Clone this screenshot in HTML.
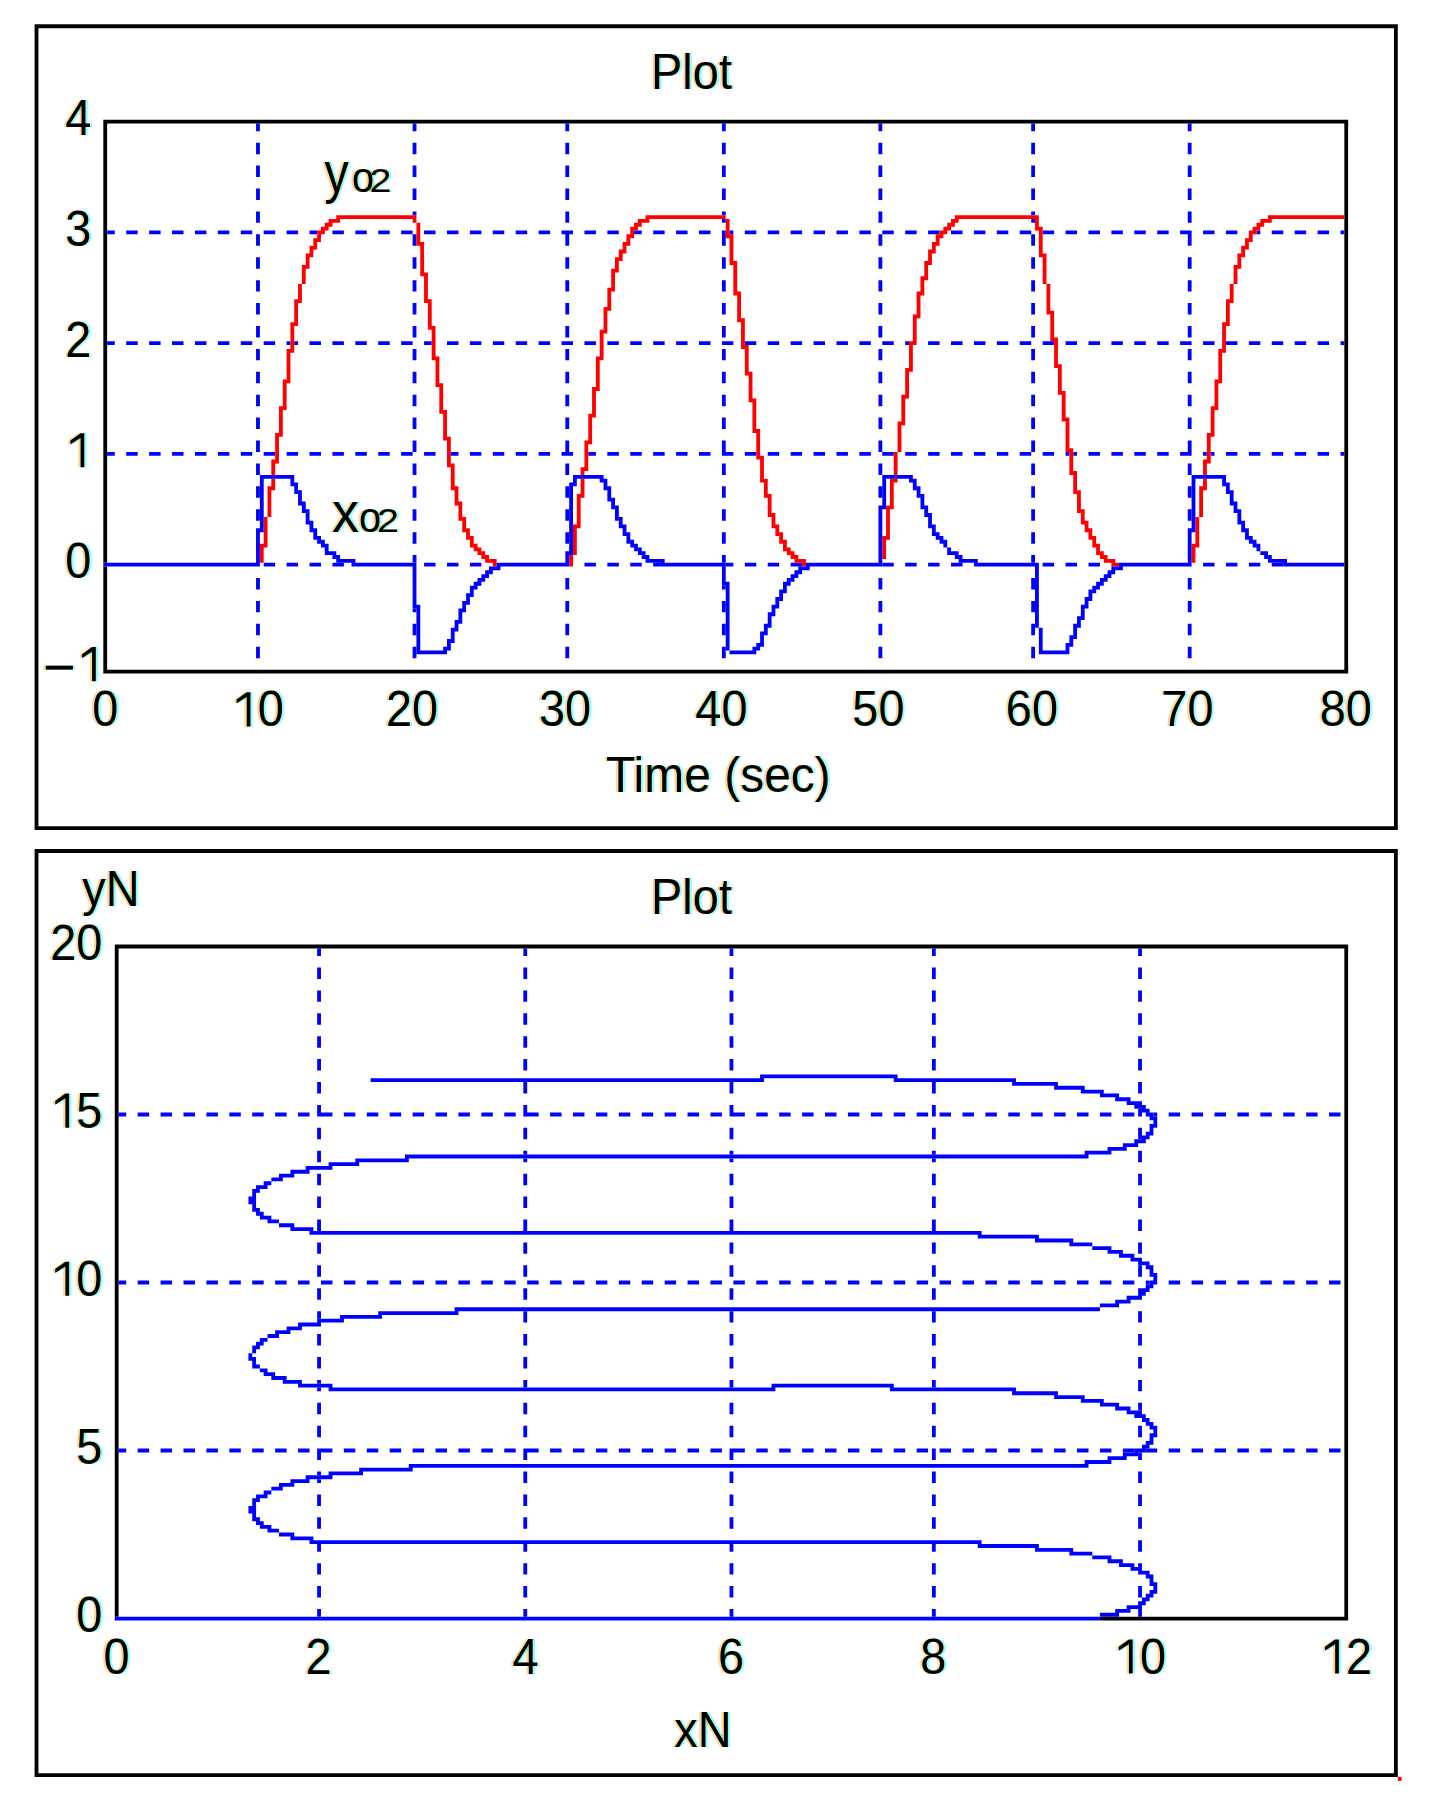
<!DOCTYPE html>
<html><head><meta charset="utf-8"><style>html,body{margin:0;padding:0;background:#fff;}svg{display:block;}</style></head>
<body><svg width="1433" height="1813" viewBox="0 0 1433 1813"><rect width="1433" height="1813" fill="#fff"/><g transform="translate(0.22 1.4) scale(3.8185)"><path fill="#0000ff" d="M67 32h1v1h-1zM108 32h1v1h-1zM148 32h1v1h-1zM189 32h1v1h-1zM230 32h1v1h-1zM270 32h1v1h-1zM311 32h1v1h-1zM67 33h1v1h-1zM108 33h1v1h-1zM148 33h1v1h-1zM189 33h1v1h-1zM230 33h1v1h-1zM270 33h1v1h-1zM311 33h1v1h-1zM67 37h1v1h-1zM108 37h1v1h-1zM148 37h1v1h-1zM189 37h1v1h-1zM230 37h1v1h-1zM270 37h1v1h-1zM311 37h1v1h-1zM67 38h1v1h-1zM108 38h1v1h-1zM148 38h1v1h-1zM189 38h1v1h-1zM230 38h1v1h-1zM270 38h1v1h-1zM311 38h1v1h-1zM67 39h1v1h-1zM108 39h1v1h-1zM148 39h1v1h-1zM189 39h1v1h-1zM230 39h1v1h-1zM270 39h1v1h-1zM311 39h1v1h-1zM67 43h1v1h-1zM108 43h1v1h-1zM148 43h1v1h-1zM189 43h1v1h-1zM230 43h1v1h-1zM270 43h1v1h-1zM311 43h1v1h-1zM67 44h1v1h-1zM108 44h1v1h-1zM148 44h1v1h-1zM189 44h1v1h-1zM230 44h1v1h-1zM270 44h1v1h-1zM311 44h1v1h-1zM67 45h1v1h-1zM108 45h1v1h-1zM148 45h1v1h-1zM189 45h1v1h-1zM230 45h1v1h-1zM270 45h1v1h-1zM311 45h1v1h-1zM67 49h1v1h-1zM108 49h1v1h-1zM148 49h1v1h-1zM189 49h1v1h-1zM230 49h1v1h-1zM270 49h1v1h-1zM311 49h1v1h-1zM67 50h1v1h-1zM108 50h1v1h-1zM148 50h1v1h-1zM189 50h1v1h-1zM230 50h1v1h-1zM270 50h1v1h-1zM311 50h1v1h-1zM67 51h1v1h-1zM108 51h1v1h-1zM148 51h1v1h-1zM189 51h1v1h-1zM230 51h1v1h-1zM270 51h1v1h-1zM311 51h1v1h-1zM67 55h1v1h-1zM108 55h1v1h-1zM148 55h1v1h-1zM189 55h1v1h-1zM230 55h1v1h-1zM270 55h1v1h-1zM311 55h1v1h-1zM67 56h1v1h-1zM148 56h1v1h-1zM230 56h1v1h-1zM311 56h1v1h-1zM67 57h1v1h-1zM148 57h1v1h-1zM189 57h1v1h-1zM230 57h1v1h-1zM270 57h1v1h-1zM311 57h1v1h-1zM28 60h2v1h-2zM33 60h3v1h-3zM39 60h3v1h-3zM45 60h3v1h-3zM51 60h3v1h-3zM57 60h3v1h-3zM63 60h3v1h-3zM69 60h3v1h-3zM75 60h3v1h-3zM81 60h2v1h-2zM87 60h3v1h-3zM93 60h3v1h-3zM99 60h3v1h-3zM105 60h3v1h-3zM111 60h3v1h-3zM117 60h3v1h-3zM123 60h3v1h-3zM129 60h3v1h-3zM135 60h3v1h-3zM141 60h3v1h-3zM147 60h3v1h-3zM153 60h3v1h-3zM159 60h3v1h-3zM166 60h2v1h-2zM171 60h3v1h-3zM177 60h3v1h-3zM183 60h3v1h-3zM189 60h1v1h-1zM191 60h1v1h-1zM195 60h3v1h-3zM201 60h3v1h-3zM207 60h3v1h-3zM213 60h3v1h-3zM219 60h3v1h-3zM225 60h3v1h-3zM231 60h3v1h-3zM237 60h3v1h-3zM243 60h3v1h-3zM249 60h3v1h-3zM255 60h3v1h-3zM261 60h3v1h-3zM267 60h3v1h-3zM273 60h3v1h-3zM279 60h3v1h-3zM285 60h3v1h-3zM291 60h3v1h-3zM297 60h3v1h-3zM303 60h3v1h-3zM309 60h3v1h-3zM315 60h3v1h-3zM321 60h3v1h-3zM329 60h1v1h-1zM333 60h3v1h-3zM339 60h3v1h-3zM345 60h3v1h-3zM351 60h1v1h-1zM67 61h1v1h-1zM108 61h1v1h-1zM148 61h1v1h-1zM189 61h1v1h-1zM230 61h1v1h-1zM270 61h1v1h-1zM311 61h1v1h-1zM67 62h1v1h-1zM108 62h1v1h-1zM148 62h1v1h-1zM189 62h1v1h-1zM230 62h1v1h-1zM270 62h1v1h-1zM311 62h1v1h-1zM67 63h1v1h-1zM108 63h1v1h-1zM148 63h1v1h-1zM189 63h1v1h-1zM230 63h1v1h-1zM270 63h1v1h-1zM311 63h1v1h-1zM67 67h1v1h-1zM108 67h1v1h-1zM148 67h1v1h-1zM189 67h1v1h-1zM230 67h1v1h-1zM270 67h1v1h-1zM311 67h1v1h-1zM67 68h1v1h-1zM108 68h1v1h-1zM148 68h1v1h-1zM189 68h1v1h-1zM230 68h1v1h-1zM270 68h1v1h-1zM311 68h1v1h-1zM67 69h1v1h-1zM108 69h1v1h-1zM148 69h1v1h-1zM189 69h1v1h-1zM230 69h1v1h-1zM270 69h1v1h-1zM311 69h1v1h-1zM67 73h1v1h-1zM108 73h1v1h-1zM148 73h1v1h-1zM189 73h1v1h-1zM230 73h1v1h-1zM270 73h1v1h-1zM311 73h1v1h-1zM67 74h1v1h-1zM108 74h1v1h-1zM148 74h1v1h-1zM189 74h1v1h-1zM230 74h1v1h-1zM270 74h1v1h-1zM311 74h1v1h-1zM67 75h1v1h-1zM108 75h1v1h-1zM148 75h1v1h-1zM189 75h1v1h-1zM230 75h1v1h-1zM270 75h1v1h-1zM311 75h1v1h-1zM67 79h1v1h-1zM108 79h1v1h-1zM148 79h1v1h-1zM189 79h1v1h-1zM230 79h1v1h-1zM270 79h1v1h-1zM311 79h1v1h-1zM67 80h1v1h-1zM108 80h1v1h-1zM148 80h1v1h-1zM189 80h1v1h-1zM230 80h1v1h-1zM270 80h1v1h-1zM311 80h1v1h-1zM67 81h1v1h-1zM108 81h1v1h-1zM148 81h1v1h-1zM189 81h1v1h-1zM230 81h1v1h-1zM270 81h1v1h-1zM311 81h1v1h-1zM67 85h1v1h-1zM108 85h1v1h-1zM148 85h1v1h-1zM189 85h1v1h-1zM230 85h1v1h-1zM270 85h1v1h-1zM311 85h1v1h-1zM67 86h1v1h-1zM108 86h1v1h-1zM148 86h1v1h-1zM189 86h1v1h-1zM230 86h1v1h-1zM270 86h1v1h-1zM311 86h1v1h-1zM67 87h1v1h-1zM108 87h1v1h-1zM148 87h1v1h-1zM189 87h1v1h-1zM230 87h1v1h-1zM270 87h1v1h-1zM311 87h1v1h-1zM28 89h2v1h-2zM33 89h3v1h-3zM39 89h3v1h-3zM45 89h3v1h-3zM51 89h3v1h-3zM57 89h3v1h-3zM63 89h3v1h-3zM69 89h3v1h-3zM75 89h1v1h-1zM77 89h1v1h-1zM81 89h3v1h-3zM87 89h3v1h-3zM93 89h3v1h-3zM99 89h3v1h-3zM105 89h3v1h-3zM111 89h2v1h-2zM117 89h3v1h-3zM123 89h3v1h-3zM129 89h3v1h-3zM135 89h3v1h-3zM141 89h3v1h-3zM147 89h3v1h-3zM153 89h3v1h-3zM159 89h3v1h-3zM165 89h3v1h-3zM171 89h3v1h-3zM177 89h3v1h-3zM183 89h3v1h-3zM189 89h3v1h-3zM195 89h3v1h-3zM201 89h3v1h-3zM207 89h3v1h-3zM213 89h3v1h-3zM219 89h3v1h-3zM225 89h3v1h-3zM231 89h3v1h-3zM237 89h1v1h-1zM243 89h3v1h-3zM249 89h3v1h-3zM255 89h3v1h-3zM261 89h3v1h-3zM267 89h3v1h-3zM273 89h3v1h-3zM279 89h3v1h-3zM285 89h3v1h-3zM291 89h3v1h-3zM297 89h3v1h-3zM303 89h3v1h-3zM309 89h3v1h-3zM315 89h3v1h-3zM321 89h3v1h-3zM327 89h3v1h-3zM333 89h3v1h-3zM339 89h3v1h-3zM345 89h3v1h-3zM351 89h1v1h-1zM67 91h1v1h-1zM108 91h1v1h-1zM148 91h1v1h-1zM189 91h1v1h-1zM230 91h1v1h-1zM270 91h1v1h-1zM311 91h1v1h-1zM67 92h1v1h-1zM108 92h1v1h-1zM148 92h1v1h-1zM189 92h1v1h-1zM230 92h1v1h-1zM270 92h1v1h-1zM311 92h1v1h-1zM67 93h1v1h-1zM108 93h1v1h-1zM148 93h1v1h-1zM189 93h1v1h-1zM230 93h1v1h-1zM270 93h1v1h-1zM311 93h1v1h-1zM67 97h1v1h-1zM108 97h1v1h-1zM148 97h1v1h-1zM189 97h1v1h-1zM230 97h1v1h-1zM270 97h1v1h-1zM311 97h1v1h-1zM67 98h1v1h-1zM108 98h1v1h-1zM148 98h1v1h-1zM189 98h1v1h-1zM230 98h1v1h-1zM270 98h1v1h-1zM311 98h1v1h-1zM67 99h1v1h-1zM108 99h1v1h-1zM148 99h1v1h-1zM189 99h1v1h-1zM230 99h1v1h-1zM270 99h1v1h-1zM311 99h1v1h-1zM67 103h1v1h-1zM108 103h1v1h-1zM148 103h1v1h-1zM189 103h1v1h-1zM230 103h1v1h-1zM270 103h1v1h-1zM311 103h1v1h-1zM67 104h1v1h-1zM108 104h1v1h-1zM148 104h1v1h-1zM189 104h1v1h-1zM230 104h1v1h-1zM270 104h1v1h-1zM311 104h1v1h-1zM67 105h1v1h-1zM108 105h1v1h-1zM148 105h1v1h-1zM189 105h1v1h-1zM230 105h1v1h-1zM270 105h1v1h-1zM311 105h1v1h-1zM67 109h1v1h-1zM108 109h1v1h-1zM148 109h1v1h-1zM189 109h1v1h-1zM230 109h1v1h-1zM270 109h1v1h-1zM311 109h1v1h-1zM67 110h1v1h-1zM108 110h1v1h-1zM148 110h1v1h-1zM189 110h1v1h-1zM230 110h1v1h-1zM270 110h1v1h-1zM311 110h1v1h-1zM67 111h1v1h-1zM108 111h1v1h-1zM148 111h1v1h-1zM189 111h1v1h-1zM230 111h1v1h-1zM270 111h1v1h-1zM311 111h1v1h-1zM67 115h1v1h-1zM108 115h1v1h-1zM148 115h1v1h-1zM189 115h1v1h-1zM230 115h1v1h-1zM270 115h1v1h-1zM311 115h1v1h-1zM67 116h1v1h-1zM108 116h1v1h-1zM148 116h1v1h-1zM189 116h1v1h-1zM230 116h1v1h-1zM270 116h1v1h-1zM311 116h1v1h-1zM67 117h1v1h-1zM108 117h1v1h-1zM148 117h1v1h-1zM189 117h1v1h-1zM230 117h1v1h-1zM270 117h1v1h-1zM311 117h1v1h-1zM28 118h2v1h-2zM33 118h3v1h-3zM39 118h3v1h-3zM45 118h3v1h-3zM51 118h3v1h-3zM57 118h3v1h-3zM63 118h3v1h-3zM69 118h3v1h-3zM75 118h3v1h-3zM81 118h3v1h-3zM87 118h3v1h-3zM93 118h3v1h-3zM99 118h3v1h-3zM105 118h3v1h-3zM111 118h3v1h-3zM118 118h2v1h-2zM123 118h3v1h-3zM129 118h3v1h-3zM135 118h3v1h-3zM141 118h3v1h-3zM147 118h3v1h-3zM154 118h2v1h-2zM159 118h3v1h-3zM165 118h3v1h-3zM171 118h3v1h-3zM177 118h3v1h-3zM183 118h3v1h-3zM189 118h3v1h-3zM195 118h3v1h-3zM201 118h3v1h-3zM207 118h3v1h-3zM213 118h3v1h-3zM219 118h3v1h-3zM225 118h3v1h-3zM231 118h3v1h-3zM237 118h3v1h-3zM243 118h3v1h-3zM249 118h3v1h-3zM255 118h3v1h-3zM261 118h3v1h-3zM267 118h3v1h-3zM273 118h3v1h-3zM279 118h1v1h-1zM281 118h1v1h-1zM285 118h3v1h-3zM291 118h3v1h-3zM297 118h3v1h-3zM303 118h3v1h-3zM309 118h3v1h-3zM315 118h1v1h-1zM317 118h1v1h-1zM321 118h3v1h-3zM327 118h3v1h-3zM333 118h3v1h-3zM339 118h3v1h-3zM345 118h3v1h-3zM351 118h1v1h-1zM67 121h1v1h-1zM108 121h1v1h-1zM148 121h1v1h-1zM189 121h1v1h-1zM230 121h1v1h-1zM270 121h1v1h-1zM311 121h1v1h-1zM67 122h1v1h-1zM108 122h1v1h-1zM148 122h1v1h-1zM189 122h1v1h-1zM230 122h1v1h-1zM270 122h1v1h-1zM311 122h1v1h-1zM67 123h1v1h-1zM108 123h1v1h-1zM148 123h1v1h-1zM189 123h1v1h-1zM230 123h1v1h-1zM270 123h1v1h-1zM311 123h1v1h-1zM67 127h1v1h-1zM108 127h1v1h-1zM148 127h1v1h-1zM189 127h1v1h-1zM230 127h1v1h-1zM270 127h1v1h-1zM311 127h1v1h-1zM67 128h1v1h-1zM108 128h1v1h-1zM148 128h1v1h-1zM189 128h1v1h-1zM230 128h1v1h-1zM270 128h1v1h-1zM311 128h1v1h-1zM67 129h1v1h-1zM108 129h1v1h-1zM148 129h1v1h-1zM189 129h1v1h-1zM230 129h1v1h-1zM270 129h1v1h-1zM311 129h1v1h-1zM67 133h1v1h-1zM108 133h1v1h-1zM148 133h1v1h-1zM189 133h1v1h-1zM270 133h1v1h-1zM311 133h1v1h-1zM67 134h1v1h-1zM108 134h1v1h-1zM148 134h1v1h-1zM189 134h1v1h-1zM270 134h1v1h-1zM311 134h1v1h-1zM67 135h1v1h-1zM108 135h1v1h-1zM148 135h1v1h-1zM189 135h1v1h-1zM270 135h1v1h-1zM311 135h1v1h-1zM108 139h1v1h-1zM148 139h1v1h-1zM189 139h1v1h-1zM270 139h1v1h-1zM108 140h1v1h-1zM148 140h1v1h-1zM189 140h1v1h-1zM270 140h1v1h-1zM108 141h1v1h-1zM148 141h1v1h-1zM189 141h1v1h-1zM270 141h1v1h-1zM108 145h1v1h-1zM189 145h1v1h-1zM270 145h1v1h-1zM108 146h1v1h-1zM189 146h1v1h-1zM270 146h1v1h-1zM69 147h3v1h-3zM75 147h3v1h-3zM81 147h3v1h-3zM87 147h3v1h-3zM111 147h3v1h-3zM117 147h3v1h-3zM123 147h3v1h-3zM153 147h3v1h-3zM159 147h3v1h-3zM165 147h3v1h-3zM171 147h2v1h-2zM190 147h2v1h-2zM195 147h3v1h-3zM201 147h3v1h-3zM207 147h3v1h-3zM231 147h3v1h-3zM237 147h3v1h-3zM243 147h3v1h-3zM249 147h3v1h-3zM273 147h3v1h-3zM279 147h3v1h-3zM285 147h3v1h-3zM315 147h3v1h-3zM321 147h3v1h-3zM327 147h3v1h-3zM333 147h3v1h-3zM67 151h1v1h-1zM148 151h1v1h-1zM230 151h1v1h-1zM270 151h1v1h-1zM311 151h1v1h-1zM67 152h1v1h-1zM148 152h1v1h-1zM230 152h1v1h-1zM270 152h1v1h-1zM311 152h1v1h-1zM67 153h1v1h-1zM148 153h1v1h-1zM189 153h1v1h-1zM230 153h1v1h-1zM270 153h1v1h-1zM311 153h1v1h-1zM67 157h1v1h-1zM148 157h1v1h-1zM189 157h1v1h-1zM230 157h1v1h-1zM270 157h1v1h-1zM311 157h1v1h-1zM67 158h1v1h-1zM148 158h1v1h-1zM189 158h1v1h-1zM230 158h1v1h-1zM270 158h1v1h-1zM311 158h1v1h-1zM67 159h1v1h-1zM108 159h1v1h-1zM148 159h1v1h-1zM189 159h1v1h-1zM230 159h1v1h-1zM270 159h1v1h-1zM311 159h1v1h-1zM67 163h1v1h-1zM108 163h1v1h-1zM148 163h1v1h-1zM189 163h1v1h-1zM230 163h1v1h-1zM270 163h1v1h-1zM311 163h1v1h-1zM67 164h1v1h-1zM108 164h1v1h-1zM148 164h1v1h-1zM189 164h1v1h-1zM230 164h1v1h-1zM270 164h1v1h-1zM311 164h1v1h-1zM67 165h1v1h-1zM108 165h1v1h-1zM148 165h1v1h-1zM189 165h1v1h-1zM230 165h1v1h-1zM270 165h1v1h-1zM311 165h1v1h-1zM67 169h1v1h-1zM108 169h1v1h-1zM148 169h1v1h-1zM189 169h1v1h-1zM230 169h1v1h-1zM270 169h1v1h-1zM311 169h1v1h-1zM67 170h1v1h-1zM108 170h1v1h-1zM148 170h1v1h-1zM189 170h1v1h-1zM230 170h1v1h-1zM270 170h1v1h-1zM311 170h1v1h-1zM67 171h1v1h-1zM108 171h1v1h-1zM148 171h1v1h-1zM189 171h1v1h-1zM230 171h1v1h-1zM270 171h1v1h-1zM311 171h1v1h-1zM83 248h1v1h-1zM137 248h1v1h-1zM191 248h1v1h-1zM244 248h1v1h-1zM298 248h1v1h-1zM83 249h1v1h-1zM137 249h1v1h-1zM191 249h1v1h-1zM244 249h1v1h-1zM298 249h1v1h-1zM83 253h1v1h-1zM137 253h1v1h-1zM191 253h1v1h-1zM244 253h1v1h-1zM298 253h1v1h-1zM83 254h1v1h-1zM137 254h1v1h-1zM191 254h1v1h-1zM244 254h1v1h-1zM298 254h1v1h-1zM83 255h1v1h-1zM137 255h1v1h-1zM191 255h1v1h-1zM244 255h1v1h-1zM298 255h1v1h-1zM83 259h1v1h-1zM137 259h1v1h-1zM191 259h1v1h-1zM244 259h1v1h-1zM298 259h1v1h-1zM83 260h1v1h-1zM137 260h1v1h-1zM191 260h1v1h-1zM244 260h1v1h-1zM298 260h1v1h-1zM83 261h1v1h-1zM137 261h1v1h-1zM191 261h1v1h-1zM244 261h1v1h-1zM298 261h1v1h-1zM83 265h1v1h-1zM137 265h1v1h-1zM191 265h1v1h-1zM244 265h1v1h-1zM298 265h1v1h-1zM83 266h1v1h-1zM137 266h1v1h-1zM191 266h1v1h-1zM244 266h1v1h-1zM298 266h1v1h-1zM83 267h1v1h-1zM137 267h1v1h-1zM191 267h1v1h-1zM244 267h1v1h-1zM298 267h1v1h-1zM83 271h1v1h-1zM137 271h1v1h-1zM191 271h1v1h-1zM244 271h1v1h-1zM298 271h1v1h-1zM83 272h1v1h-1zM137 272h1v1h-1zM191 272h1v1h-1zM244 272h1v1h-1zM298 272h1v1h-1zM83 273h1v1h-1zM137 273h1v1h-1zM191 273h1v1h-1zM244 273h1v1h-1zM298 273h1v1h-1zM83 277h1v1h-1zM137 277h1v1h-1zM191 277h1v1h-1zM244 277h1v1h-1zM298 277h1v1h-1zM83 278h1v1h-1zM137 278h1v1h-1zM191 278h1v1h-1zM244 278h1v1h-1zM298 278h1v1h-1zM83 279h1v1h-1zM137 279h1v1h-1zM191 279h1v1h-1zM244 279h1v1h-1zM298 279h1v1h-1zM83 283h1v1h-1zM137 283h1v1h-1zM191 283h1v1h-1zM244 283h1v1h-1zM298 283h1v1h-1zM83 284h1v1h-1zM137 284h1v1h-1zM191 284h1v1h-1zM244 284h1v1h-1zM298 284h1v1h-1zM83 285h1v1h-1zM137 285h1v1h-1zM191 285h1v1h-1zM244 285h1v1h-1zM298 285h1v1h-1zM83 289h1v1h-1zM137 289h1v1h-1zM191 289h1v1h-1zM244 289h1v1h-1zM83 290h1v1h-1zM137 290h1v1h-1zM191 290h1v1h-1zM244 290h1v1h-1zM298 290h1v1h-1zM31 291h2v1h-2zM36 291h3v1h-3zM42 291h3v1h-3zM48 291h3v1h-3zM54 291h3v1h-3zM60 291h3v1h-3zM66 291h3v1h-3zM72 291h3v1h-3zM78 291h3v1h-3zM83 291h4v1h-4zM90 291h3v1h-3zM96 291h3v1h-3zM102 291h3v1h-3zM108 291h3v1h-3zM114 291h3v1h-3zM120 291h3v1h-3zM126 291h3v1h-3zM132 291h3v1h-3zM137 291h4v1h-4zM144 291h3v1h-3zM150 291h3v1h-3zM156 291h3v1h-3zM162 291h3v1h-3zM168 291h3v1h-3zM174 291h3v1h-3zM180 291h3v1h-3zM186 291h3v1h-3zM191 291h4v1h-4zM198 291h3v1h-3zM204 291h3v1h-3zM210 291h3v1h-3zM216 291h3v1h-3zM222 291h3v1h-3zM228 291h3v1h-3zM234 291h3v1h-3zM240 291h3v1h-3zM244 291h1v1h-1zM246 291h3v1h-3zM252 291h3v1h-3zM258 291h3v1h-3zM264 291h3v1h-3zM270 291h3v1h-3zM276 291h3v1h-3zM282 291h3v1h-3zM288 291h3v1h-3zM294 291h3v1h-3zM298 291h1v1h-1zM302 291h1v1h-1zM306 291h3v1h-3zM312 291h3v1h-3zM318 291h3v1h-3zM324 291h3v1h-3zM330 291h3v1h-3zM336 291h3v1h-3zM342 291h3v1h-3zM348 291h3v1h-3zM83 295h1v1h-1zM137 295h1v1h-1zM191 295h1v1h-1zM244 295h1v1h-1zM298 295h1v1h-1zM83 296h1v1h-1zM137 296h1v1h-1zM191 296h1v1h-1zM244 296h1v1h-1zM298 296h1v1h-1zM83 297h1v1h-1zM137 297h1v1h-1zM191 297h1v1h-1zM244 297h1v1h-1zM298 297h1v1h-1zM83 301h1v1h-1zM137 301h1v1h-1zM191 301h1v1h-1zM244 301h1v1h-1zM298 301h1v1h-1zM83 302h1v1h-1zM298 302h1v1h-1zM83 303h1v1h-1zM137 303h1v1h-1zM191 303h1v1h-1zM244 303h1v1h-1zM298 303h1v1h-1zM83 307h1v1h-1zM137 307h1v1h-1zM191 307h1v1h-1zM244 307h1v1h-1zM298 307h1v1h-1zM83 308h1v1h-1zM137 308h1v1h-1zM191 308h1v1h-1zM244 308h1v1h-1zM298 308h1v1h-1zM83 309h1v1h-1zM137 309h1v1h-1zM191 309h1v1h-1zM244 309h1v1h-1zM298 309h1v1h-1zM83 313h1v1h-1zM137 313h1v1h-1zM191 313h1v1h-1zM244 313h1v1h-1zM298 313h1v1h-1zM83 314h1v1h-1zM137 314h1v1h-1zM191 314h1v1h-1zM244 314h1v1h-1zM298 314h1v1h-1zM83 315h1v1h-1zM137 315h1v1h-1zM191 315h1v1h-1zM244 315h1v1h-1zM298 315h1v1h-1zM83 319h1v1h-1zM137 319h1v1h-1zM191 319h1v1h-1zM244 319h1v1h-1zM298 319h1v1h-1zM83 320h1v1h-1zM137 320h1v1h-1zM191 320h1v1h-1zM244 320h1v1h-1zM298 320h1v1h-1zM83 321h1v1h-1zM137 321h1v1h-1zM191 321h1v1h-1zM244 321h1v1h-1zM298 321h1v1h-1zM83 325h1v1h-1zM137 325h1v1h-1zM191 325h1v1h-1zM244 325h1v1h-1zM298 325h1v1h-1zM83 326h1v1h-1zM137 326h1v1h-1zM191 326h1v1h-1zM244 326h1v1h-1zM298 326h1v1h-1zM83 327h1v1h-1zM137 327h1v1h-1zM191 327h1v1h-1zM244 327h1v1h-1zM298 327h1v1h-1zM83 331h1v1h-1zM137 331h1v1h-1zM191 331h1v1h-1zM244 331h1v1h-1zM298 331h1v1h-1zM83 332h1v1h-1zM137 332h1v1h-1zM191 332h1v1h-1zM244 332h1v1h-1zM298 332h1v1h-1zM83 333h1v1h-1zM137 333h1v1h-1zM191 333h1v1h-1zM244 333h1v1h-1zM298 333h1v1h-1zM31 335h2v1h-2zM36 335h3v1h-3zM42 335h3v1h-3zM48 335h3v1h-3zM54 335h3v1h-3zM60 335h3v1h-3zM66 335h3v1h-3zM72 335h3v1h-3zM78 335h3v1h-3zM84 335h3v1h-3zM90 335h3v1h-3zM96 335h3v1h-3zM102 335h3v1h-3zM108 335h3v1h-3zM114 335h3v1h-3zM120 335h3v1h-3zM126 335h3v1h-3zM132 335h3v1h-3zM138 335h3v1h-3zM144 335h3v1h-3zM150 335h3v1h-3zM156 335h3v1h-3zM162 335h3v1h-3zM168 335h3v1h-3zM174 335h3v1h-3zM180 335h3v1h-3zM186 335h3v1h-3zM192 335h3v1h-3zM198 335h3v1h-3zM204 335h3v1h-3zM210 335h3v1h-3zM216 335h3v1h-3zM222 335h3v1h-3zM228 335h3v1h-3zM234 335h3v1h-3zM240 335h3v1h-3zM246 335h3v1h-3zM252 335h3v1h-3zM258 335h3v1h-3zM264 335h3v1h-3zM270 335h3v1h-3zM276 335h3v1h-3zM282 335h3v1h-3zM288 335h3v1h-3zM294 335h3v1h-3zM300 335h1v1h-1zM306 335h3v1h-3zM312 335h3v1h-3zM318 335h3v1h-3zM324 335h3v1h-3zM330 335h3v1h-3zM336 335h3v1h-3zM342 335h3v1h-3zM348 335h3v1h-3zM83 337h1v1h-1zM137 337h1v1h-1zM191 337h1v1h-1zM244 337h1v1h-1zM298 337h1v1h-1zM83 338h1v1h-1zM137 338h1v1h-1zM191 338h1v1h-1zM244 338h1v1h-1zM83 339h1v1h-1zM137 339h1v1h-1zM191 339h1v1h-1zM244 339h1v1h-1zM83 343h1v1h-1zM137 343h1v1h-1zM191 343h1v1h-1zM244 343h1v1h-1zM298 343h1v1h-1zM83 344h1v1h-1zM137 344h1v1h-1zM191 344h1v1h-1zM244 344h1v1h-1zM298 344h1v1h-1zM137 345h1v1h-1zM191 345h1v1h-1zM244 345h1v1h-1zM298 345h1v1h-1zM83 349h1v1h-1zM137 349h1v1h-1zM191 349h1v1h-1zM244 349h1v1h-1zM298 349h1v1h-1zM83 350h1v1h-1zM137 350h1v1h-1zM191 350h1v1h-1zM244 350h1v1h-1zM298 350h1v1h-1zM83 351h1v1h-1zM137 351h1v1h-1zM191 351h1v1h-1zM244 351h1v1h-1zM298 351h1v1h-1zM83 355h1v1h-1zM137 355h1v1h-1zM191 355h1v1h-1zM244 355h1v1h-1zM298 355h1v1h-1zM83 356h1v1h-1zM137 356h1v1h-1zM191 356h1v1h-1zM244 356h1v1h-1zM298 356h1v1h-1zM83 357h1v1h-1zM137 357h1v1h-1zM191 357h1v1h-1zM244 357h1v1h-1zM298 357h1v1h-1zM83 361h1v1h-1zM137 361h1v1h-1zM191 361h1v1h-1zM244 361h1v1h-1zM298 361h1v1h-1zM137 362h1v1h-1zM191 362h1v1h-1zM244 362h1v1h-1zM298 362h1v1h-1zM83 363h1v1h-1zM298 363h1v1h-1zM83 367h1v1h-1zM137 367h1v1h-1zM191 367h1v1h-1zM244 367h1v1h-1zM298 367h1v1h-1zM83 368h1v1h-1zM137 368h1v1h-1zM191 368h1v1h-1zM244 368h1v1h-1zM298 368h1v1h-1zM83 369h1v1h-1zM137 369h1v1h-1zM191 369h1v1h-1zM244 369h1v1h-1zM83 373h1v1h-1zM137 373h1v1h-1zM191 373h1v1h-1zM244 373h1v1h-1zM298 373h1v1h-1zM83 374h1v1h-1zM137 374h1v1h-1zM191 374h1v1h-1zM244 374h1v1h-1zM298 374h1v1h-1zM83 375h1v1h-1zM137 375h1v1h-1zM191 375h1v1h-1zM244 375h1v1h-1zM298 375h1v1h-1zM31 379h2v1h-2zM36 379h3v1h-3zM42 379h3v1h-3zM48 379h3v1h-3zM54 379h3v1h-3zM60 379h3v1h-3zM66 379h3v1h-3zM72 379h3v1h-3zM78 379h3v1h-3zM83 379h4v1h-4zM90 379h3v1h-3zM96 379h3v1h-3zM102 379h3v1h-3zM108 379h3v1h-3zM114 379h3v1h-3zM120 379h3v1h-3zM126 379h3v1h-3zM132 379h3v1h-3zM137 379h4v1h-4zM144 379h3v1h-3zM150 379h3v1h-3zM156 379h3v1h-3zM162 379h3v1h-3zM168 379h3v1h-3zM174 379h3v1h-3zM180 379h3v1h-3zM186 379h3v1h-3zM191 379h4v1h-4zM198 379h3v1h-3zM204 379h3v1h-3zM210 379h3v1h-3zM216 379h3v1h-3zM222 379h3v1h-3zM228 379h3v1h-3zM234 379h3v1h-3zM240 379h3v1h-3zM244 379h1v1h-1zM246 379h3v1h-3zM252 379h3v1h-3zM258 379h3v1h-3zM264 379h3v1h-3zM270 379h3v1h-3zM276 379h3v1h-3zM282 379h3v1h-3zM288 379h3v1h-3zM294 379h3v1h-3zM300 379h3v1h-3zM306 379h3v1h-3zM312 379h3v1h-3zM318 379h3v1h-3zM324 379h3v1h-3zM330 379h3v1h-3zM336 379h3v1h-3zM342 379h3v1h-3zM348 379h3v1h-3zM83 380h1v1h-1zM137 380h1v1h-1zM191 380h1v1h-1zM244 380h1v1h-1zM298 380h1v1h-1zM83 381h1v1h-1zM137 381h1v1h-1zM191 381h1v1h-1zM244 381h1v1h-1zM298 381h1v1h-1zM83 385h1v1h-1zM137 385h1v1h-1zM191 385h1v1h-1zM244 385h1v1h-1zM298 385h1v1h-1zM137 386h1v1h-1zM191 386h1v1h-1zM244 386h1v1h-1zM298 386h1v1h-1zM83 387h1v1h-1zM137 387h1v1h-1zM191 387h1v1h-1zM244 387h1v1h-1zM298 387h1v1h-1zM83 391h1v1h-1zM137 391h1v1h-1zM191 391h1v1h-1zM244 391h1v1h-1zM298 391h1v1h-1zM83 392h1v1h-1zM137 392h1v1h-1zM191 392h1v1h-1zM244 392h1v1h-1zM298 392h1v1h-1zM83 393h1v1h-1zM137 393h1v1h-1zM191 393h1v1h-1zM244 393h1v1h-1zM298 393h1v1h-1zM83 397h1v1h-1zM137 397h1v1h-1zM191 397h1v1h-1zM244 397h1v1h-1zM298 397h1v1h-1zM83 398h1v1h-1zM137 398h1v1h-1zM191 398h1v1h-1zM244 398h1v1h-1zM298 398h1v1h-1zM83 399h1v1h-1zM137 399h1v1h-1zM191 399h1v1h-1zM244 399h1v1h-1zM298 399h1v1h-1zM298 403h1v1h-1zM83 404h1v1h-1zM137 404h1v1h-1zM191 404h1v1h-1zM244 404h1v1h-1zM298 404h1v1h-1zM83 405h1v1h-1zM137 405h1v1h-1zM191 405h1v1h-1zM244 405h1v1h-1zM298 405h1v1h-1zM83 409h1v1h-1zM137 409h1v1h-1zM191 409h1v1h-1zM244 409h1v1h-1zM298 409h1v1h-1zM83 410h1v1h-1zM137 410h1v1h-1zM191 410h1v1h-1zM244 410h1v1h-1zM83 411h1v1h-1zM137 411h1v1h-1zM191 411h1v1h-1zM244 411h1v1h-1zM83 415h1v1h-1zM137 415h1v1h-1zM191 415h1v1h-1zM244 415h1v1h-1zM298 415h1v1h-1zM83 416h1v1h-1zM137 416h1v1h-1zM191 416h1v1h-1zM244 416h1v1h-1zM298 416h1v1h-1zM83 417h1v1h-1zM137 417h1v1h-1zM191 417h1v1h-1zM244 417h1v1h-1zM298 417h1v1h-1zM83 421h1v1h-1zM137 421h1v1h-1zM191 421h1v1h-1zM244 421h1v1h-1zM298 421h1v1h-1zM83 422h1v1h-1zM137 422h1v1h-1zM191 422h1v1h-1zM244 422h1v1h-1zM298 422h1v1h-1z"/><path fill="#000" d="M9 6h357v1h-357zM9 7h1v1h-1zM365 7h1v1h-1zM9 8h1v1h-1zM365 8h1v1h-1zM9 9h1v1h-1zM365 9h1v1h-1zM9 10h1v1h-1zM365 10h1v1h-1zM9 11h1v1h-1zM365 11h1v1h-1zM9 12h1v1h-1zM365 12h1v1h-1zM9 13h1v1h-1zM365 13h1v1h-1zM9 14h1v1h-1zM365 14h1v1h-1zM9 15h1v1h-1zM365 15h1v1h-1zM9 16h1v1h-1zM365 16h1v1h-1zM9 17h1v1h-1zM365 17h1v1h-1zM9 18h1v1h-1zM365 18h1v1h-1zM9 19h1v1h-1zM365 19h1v1h-1zM9 20h1v1h-1zM365 20h1v1h-1zM9 21h1v1h-1zM365 21h1v1h-1zM9 22h1v1h-1zM365 22h1v1h-1zM9 23h1v1h-1zM365 23h1v1h-1zM9 24h1v1h-1zM365 24h1v1h-1zM9 25h1v1h-1zM365 25h1v1h-1zM9 26h1v1h-1zM365 26h1v1h-1zM9 27h1v1h-1zM365 27h1v1h-1zM9 28h1v1h-1zM365 28h1v1h-1zM9 29h1v1h-1zM365 29h1v1h-1zM9 30h1v1h-1zM365 30h1v1h-1zM9 31h1v1h-1zM27 31h326v1h-326zM365 31h1v1h-1zM9 32h1v1h-1zM27 32h1v1h-1zM352 32h1v1h-1zM365 32h1v1h-1zM9 33h1v1h-1zM27 33h1v1h-1zM352 33h1v1h-1zM365 33h1v1h-1zM9 34h1v1h-1zM27 34h1v1h-1zM352 34h1v1h-1zM365 34h1v1h-1zM9 35h1v1h-1zM27 35h1v1h-1zM352 35h1v1h-1zM365 35h1v1h-1zM9 36h1v1h-1zM27 36h1v1h-1zM352 36h1v1h-1zM365 36h1v1h-1zM9 37h1v1h-1zM27 37h1v1h-1zM352 37h1v1h-1zM365 37h1v1h-1zM9 38h1v1h-1zM27 38h1v1h-1zM352 38h1v1h-1zM365 38h1v1h-1zM9 39h1v1h-1zM27 39h1v1h-1zM352 39h1v1h-1zM365 39h1v1h-1zM9 40h1v1h-1zM27 40h1v1h-1zM352 40h1v1h-1zM365 40h1v1h-1zM9 41h1v1h-1zM27 41h1v1h-1zM352 41h1v1h-1zM365 41h1v1h-1zM9 42h1v1h-1zM27 42h1v1h-1zM352 42h1v1h-1zM365 42h1v1h-1zM9 43h1v1h-1zM27 43h1v1h-1zM352 43h1v1h-1zM365 43h1v1h-1zM9 44h1v1h-1zM27 44h1v1h-1zM352 44h1v1h-1zM365 44h1v1h-1zM9 45h1v1h-1zM27 45h1v1h-1zM352 45h1v1h-1zM365 45h1v1h-1zM9 46h1v1h-1zM27 46h1v1h-1zM352 46h1v1h-1zM365 46h1v1h-1zM9 47h1v1h-1zM27 47h1v1h-1zM352 47h1v1h-1zM365 47h1v1h-1zM9 48h1v1h-1zM27 48h1v1h-1zM352 48h1v1h-1zM365 48h1v1h-1zM9 49h1v1h-1zM27 49h1v1h-1zM352 49h1v1h-1zM365 49h1v1h-1zM9 50h1v1h-1zM27 50h1v1h-1zM352 50h1v1h-1zM365 50h1v1h-1zM9 51h1v1h-1zM27 51h1v1h-1zM352 51h1v1h-1zM365 51h1v1h-1zM9 52h1v1h-1zM27 52h1v1h-1zM352 52h1v1h-1zM365 52h1v1h-1zM9 53h1v1h-1zM27 53h1v1h-1zM352 53h1v1h-1zM365 53h1v1h-1zM9 54h1v1h-1zM27 54h1v1h-1zM352 54h1v1h-1zM365 54h1v1h-1zM9 55h1v1h-1zM27 55h1v1h-1zM352 55h1v1h-1zM365 55h1v1h-1zM9 56h1v1h-1zM27 56h1v1h-1zM352 56h1v1h-1zM365 56h1v1h-1zM9 57h1v1h-1zM27 57h1v1h-1zM352 57h1v1h-1zM365 57h1v1h-1zM9 58h1v1h-1zM27 58h1v1h-1zM352 58h1v1h-1zM365 58h1v1h-1zM9 59h1v1h-1zM27 59h1v1h-1zM352 59h1v1h-1zM365 59h1v1h-1zM9 60h1v1h-1zM27 60h1v1h-1zM352 60h1v1h-1zM365 60h1v1h-1zM9 61h1v1h-1zM27 61h1v1h-1zM352 61h1v1h-1zM365 61h1v1h-1zM9 62h1v1h-1zM27 62h1v1h-1zM352 62h1v1h-1zM365 62h1v1h-1zM9 63h1v1h-1zM27 63h1v1h-1zM352 63h1v1h-1zM365 63h1v1h-1zM9 64h1v1h-1zM27 64h1v1h-1zM352 64h1v1h-1zM365 64h1v1h-1zM9 65h1v1h-1zM27 65h1v1h-1zM352 65h1v1h-1zM365 65h1v1h-1zM9 66h1v1h-1zM27 66h1v1h-1zM352 66h1v1h-1zM365 66h1v1h-1zM9 67h1v1h-1zM27 67h1v1h-1zM352 67h1v1h-1zM365 67h1v1h-1zM9 68h1v1h-1zM27 68h1v1h-1zM352 68h1v1h-1zM365 68h1v1h-1zM9 69h1v1h-1zM27 69h1v1h-1zM352 69h1v1h-1zM365 69h1v1h-1zM9 70h1v1h-1zM27 70h1v1h-1zM352 70h1v1h-1zM365 70h1v1h-1zM9 71h1v1h-1zM27 71h1v1h-1zM352 71h1v1h-1zM365 71h1v1h-1zM9 72h1v1h-1zM27 72h1v1h-1zM352 72h1v1h-1zM365 72h1v1h-1zM9 73h1v1h-1zM27 73h1v1h-1zM352 73h1v1h-1zM365 73h1v1h-1zM9 74h1v1h-1zM27 74h1v1h-1zM352 74h1v1h-1zM365 74h1v1h-1zM9 75h1v1h-1zM27 75h1v1h-1zM352 75h1v1h-1zM365 75h1v1h-1zM9 76h1v1h-1zM27 76h1v1h-1zM352 76h1v1h-1zM365 76h1v1h-1zM9 77h1v1h-1zM27 77h1v1h-1zM352 77h1v1h-1zM365 77h1v1h-1zM9 78h1v1h-1zM27 78h1v1h-1zM352 78h1v1h-1zM365 78h1v1h-1zM9 79h1v1h-1zM27 79h1v1h-1zM352 79h1v1h-1zM365 79h1v1h-1zM9 80h1v1h-1zM27 80h1v1h-1zM352 80h1v1h-1zM365 80h1v1h-1zM9 81h1v1h-1zM27 81h1v1h-1zM352 81h1v1h-1zM365 81h1v1h-1zM9 82h1v1h-1zM27 82h1v1h-1zM352 82h1v1h-1zM365 82h1v1h-1zM9 83h1v1h-1zM27 83h1v1h-1zM352 83h1v1h-1zM365 83h1v1h-1zM9 84h1v1h-1zM27 84h1v1h-1zM352 84h1v1h-1zM365 84h1v1h-1zM9 85h1v1h-1zM27 85h1v1h-1zM352 85h1v1h-1zM365 85h1v1h-1zM9 86h1v1h-1zM27 86h1v1h-1zM352 86h1v1h-1zM365 86h1v1h-1zM9 87h1v1h-1zM27 87h1v1h-1zM352 87h1v1h-1zM365 87h1v1h-1zM9 88h1v1h-1zM27 88h1v1h-1zM352 88h1v1h-1zM365 88h1v1h-1zM9 89h1v1h-1zM27 89h1v1h-1zM352 89h1v1h-1zM365 89h1v1h-1zM9 90h1v1h-1zM27 90h1v1h-1zM352 90h1v1h-1zM365 90h1v1h-1zM9 91h1v1h-1zM27 91h1v1h-1zM352 91h1v1h-1zM365 91h1v1h-1zM9 92h1v1h-1zM27 92h1v1h-1zM352 92h1v1h-1zM365 92h1v1h-1zM9 93h1v1h-1zM27 93h1v1h-1zM352 93h1v1h-1zM365 93h1v1h-1zM9 94h1v1h-1zM27 94h1v1h-1zM352 94h1v1h-1zM365 94h1v1h-1zM9 95h1v1h-1zM27 95h1v1h-1zM352 95h1v1h-1zM365 95h1v1h-1zM9 96h1v1h-1zM27 96h1v1h-1zM352 96h1v1h-1zM365 96h1v1h-1zM9 97h1v1h-1zM27 97h1v1h-1zM352 97h1v1h-1zM365 97h1v1h-1zM9 98h1v1h-1zM27 98h1v1h-1zM352 98h1v1h-1zM365 98h1v1h-1zM9 99h1v1h-1zM27 99h1v1h-1zM352 99h1v1h-1zM365 99h1v1h-1zM9 100h1v1h-1zM27 100h1v1h-1zM352 100h1v1h-1zM365 100h1v1h-1zM9 101h1v1h-1zM27 101h1v1h-1zM352 101h1v1h-1zM365 101h1v1h-1zM9 102h1v1h-1zM27 102h1v1h-1zM352 102h1v1h-1zM365 102h1v1h-1zM9 103h1v1h-1zM27 103h1v1h-1zM352 103h1v1h-1zM365 103h1v1h-1zM9 104h1v1h-1zM27 104h1v1h-1zM352 104h1v1h-1zM365 104h1v1h-1zM9 105h1v1h-1zM27 105h1v1h-1zM352 105h1v1h-1zM365 105h1v1h-1zM9 106h1v1h-1zM27 106h1v1h-1zM352 106h1v1h-1zM365 106h1v1h-1zM9 107h1v1h-1zM27 107h1v1h-1zM352 107h1v1h-1zM365 107h1v1h-1zM9 108h1v1h-1zM27 108h1v1h-1zM352 108h1v1h-1zM365 108h1v1h-1zM9 109h1v1h-1zM27 109h1v1h-1zM352 109h1v1h-1zM365 109h1v1h-1zM9 110h1v1h-1zM27 110h1v1h-1zM352 110h1v1h-1zM365 110h1v1h-1zM9 111h1v1h-1zM27 111h1v1h-1zM352 111h1v1h-1zM365 111h1v1h-1zM9 112h1v1h-1zM27 112h1v1h-1zM352 112h1v1h-1zM365 112h1v1h-1zM9 113h1v1h-1zM27 113h1v1h-1zM352 113h1v1h-1zM365 113h1v1h-1zM9 114h1v1h-1zM27 114h1v1h-1zM352 114h1v1h-1zM365 114h1v1h-1zM9 115h1v1h-1zM27 115h1v1h-1zM352 115h1v1h-1zM365 115h1v1h-1zM9 116h1v1h-1zM27 116h1v1h-1zM352 116h1v1h-1zM365 116h1v1h-1zM9 117h1v1h-1zM27 117h1v1h-1zM352 117h1v1h-1zM365 117h1v1h-1zM9 118h1v1h-1zM27 118h1v1h-1zM352 118h1v1h-1zM365 118h1v1h-1zM9 119h1v1h-1zM27 119h1v1h-1zM352 119h1v1h-1zM365 119h1v1h-1zM9 120h1v1h-1zM27 120h1v1h-1zM352 120h1v1h-1zM365 120h1v1h-1zM9 121h1v1h-1zM27 121h1v1h-1zM352 121h1v1h-1zM365 121h1v1h-1zM9 122h1v1h-1zM27 122h1v1h-1zM352 122h1v1h-1zM365 122h1v1h-1zM9 123h1v1h-1zM27 123h1v1h-1zM352 123h1v1h-1zM365 123h1v1h-1zM9 124h1v1h-1zM27 124h1v1h-1zM352 124h1v1h-1zM365 124h1v1h-1zM9 125h1v1h-1zM27 125h1v1h-1zM352 125h1v1h-1zM365 125h1v1h-1zM9 126h1v1h-1zM27 126h1v1h-1zM352 126h1v1h-1zM365 126h1v1h-1zM9 127h1v1h-1zM27 127h1v1h-1zM352 127h1v1h-1zM365 127h1v1h-1zM9 128h1v1h-1zM27 128h1v1h-1zM352 128h1v1h-1zM365 128h1v1h-1zM9 129h1v1h-1zM27 129h1v1h-1zM352 129h1v1h-1zM365 129h1v1h-1zM9 130h1v1h-1zM27 130h1v1h-1zM352 130h1v1h-1zM365 130h1v1h-1zM9 131h1v1h-1zM27 131h1v1h-1zM352 131h1v1h-1zM365 131h1v1h-1zM9 132h1v1h-1zM27 132h1v1h-1zM352 132h1v1h-1zM365 132h1v1h-1zM9 133h1v1h-1zM27 133h1v1h-1zM352 133h1v1h-1zM365 133h1v1h-1zM9 134h1v1h-1zM27 134h1v1h-1zM352 134h1v1h-1zM365 134h1v1h-1zM9 135h1v1h-1zM27 135h1v1h-1zM352 135h1v1h-1zM365 135h1v1h-1zM9 136h1v1h-1zM27 136h1v1h-1zM352 136h1v1h-1zM365 136h1v1h-1zM9 137h1v1h-1zM27 137h1v1h-1zM352 137h1v1h-1zM365 137h1v1h-1zM9 138h1v1h-1zM27 138h1v1h-1zM352 138h1v1h-1zM365 138h1v1h-1zM9 139h1v1h-1zM27 139h1v1h-1zM352 139h1v1h-1zM365 139h1v1h-1zM9 140h1v1h-1zM27 140h1v1h-1zM352 140h1v1h-1zM365 140h1v1h-1zM9 141h1v1h-1zM27 141h1v1h-1zM352 141h1v1h-1zM365 141h1v1h-1zM9 142h1v1h-1zM27 142h1v1h-1zM352 142h1v1h-1zM365 142h1v1h-1zM9 143h1v1h-1zM27 143h1v1h-1zM352 143h1v1h-1zM365 143h1v1h-1zM9 144h1v1h-1zM27 144h1v1h-1zM352 144h1v1h-1zM365 144h1v1h-1zM9 145h1v1h-1zM27 145h1v1h-1zM352 145h1v1h-1zM365 145h1v1h-1zM9 146h1v1h-1zM27 146h1v1h-1zM352 146h1v1h-1zM365 146h1v1h-1zM9 147h1v1h-1zM352 147h1v1h-1zM365 147h1v1h-1zM9 148h1v1h-1zM27 148h1v1h-1zM352 148h1v1h-1zM365 148h1v1h-1zM9 149h1v1h-1zM27 149h1v1h-1zM352 149h1v1h-1zM365 149h1v1h-1zM9 150h1v1h-1zM27 150h1v1h-1zM352 150h1v1h-1zM365 150h1v1h-1zM9 151h1v1h-1zM27 151h1v1h-1zM352 151h1v1h-1zM365 151h1v1h-1zM9 152h1v1h-1zM27 152h1v1h-1zM352 152h1v1h-1zM365 152h1v1h-1zM9 153h1v1h-1zM27 153h1v1h-1zM352 153h1v1h-1zM365 153h1v1h-1zM9 154h1v1h-1zM27 154h1v1h-1zM352 154h1v1h-1zM365 154h1v1h-1zM9 155h1v1h-1zM27 155h1v1h-1zM352 155h1v1h-1zM365 155h1v1h-1zM9 156h1v1h-1zM27 156h1v1h-1zM352 156h1v1h-1zM365 156h1v1h-1zM9 157h1v1h-1zM27 157h1v1h-1zM352 157h1v1h-1zM365 157h1v1h-1zM9 158h1v1h-1zM27 158h1v1h-1zM352 158h1v1h-1zM365 158h1v1h-1zM9 159h1v1h-1zM27 159h1v1h-1zM352 159h1v1h-1zM365 159h1v1h-1zM9 160h1v1h-1zM27 160h1v1h-1zM352 160h1v1h-1zM365 160h1v1h-1zM9 161h1v1h-1zM27 161h1v1h-1zM352 161h1v1h-1zM365 161h1v1h-1zM9 162h1v1h-1zM27 162h1v1h-1zM352 162h1v1h-1zM365 162h1v1h-1zM9 163h1v1h-1zM27 163h1v1h-1zM352 163h1v1h-1zM365 163h1v1h-1zM9 164h1v1h-1zM27 164h1v1h-1zM352 164h1v1h-1zM365 164h1v1h-1zM9 165h1v1h-1zM27 165h1v1h-1zM352 165h1v1h-1zM365 165h1v1h-1zM9 166h1v1h-1zM27 166h1v1h-1zM352 166h1v1h-1zM365 166h1v1h-1zM9 167h1v1h-1zM27 167h1v1h-1zM352 167h1v1h-1zM365 167h1v1h-1zM9 168h1v1h-1zM27 168h1v1h-1zM352 168h1v1h-1zM365 168h1v1h-1zM9 169h1v1h-1zM27 169h1v1h-1zM352 169h1v1h-1zM365 169h1v1h-1zM9 170h1v1h-1zM27 170h1v1h-1zM352 170h1v1h-1zM365 170h1v1h-1zM9 171h1v1h-1zM27 171h1v1h-1zM352 171h1v1h-1zM365 171h1v1h-1zM9 172h1v1h-1zM27 172h1v1h-1zM352 172h1v1h-1zM365 172h1v1h-1zM9 173h1v1h-1zM27 173h1v1h-1zM352 173h1v1h-1zM365 173h1v1h-1zM9 174h1v1h-1zM27 174h1v1h-1zM352 174h1v1h-1zM365 174h1v1h-1zM9 175h1v1h-1zM27 175h326v1h-326zM365 175h1v1h-1zM9 176h1v1h-1zM365 176h1v1h-1zM9 177h1v1h-1zM365 177h1v1h-1zM9 178h1v1h-1zM365 178h1v1h-1zM9 179h1v1h-1zM365 179h1v1h-1zM9 180h1v1h-1zM365 180h1v1h-1zM9 181h1v1h-1zM365 181h1v1h-1zM9 182h1v1h-1zM365 182h1v1h-1zM9 183h1v1h-1zM365 183h1v1h-1zM9 184h1v1h-1zM365 184h1v1h-1zM9 185h1v1h-1zM365 185h1v1h-1zM9 186h1v1h-1zM365 186h1v1h-1zM9 187h1v1h-1zM365 187h1v1h-1zM9 188h1v1h-1zM365 188h1v1h-1zM9 189h1v1h-1zM365 189h1v1h-1zM9 190h1v1h-1zM365 190h1v1h-1zM9 191h1v1h-1zM365 191h1v1h-1zM9 192h1v1h-1zM365 192h1v1h-1zM9 193h1v1h-1zM365 193h1v1h-1zM9 194h1v1h-1zM365 194h1v1h-1zM9 195h1v1h-1zM365 195h1v1h-1zM9 196h1v1h-1zM365 196h1v1h-1zM9 197h1v1h-1zM365 197h1v1h-1zM9 198h1v1h-1zM365 198h1v1h-1zM9 199h1v1h-1zM365 199h1v1h-1zM9 200h1v1h-1zM365 200h1v1h-1zM9 201h1v1h-1zM365 201h1v1h-1zM9 202h1v1h-1zM365 202h1v1h-1zM9 203h1v1h-1zM365 203h1v1h-1zM9 204h1v1h-1zM365 204h1v1h-1zM9 205h1v1h-1zM365 205h1v1h-1zM9 206h1v1h-1zM365 206h1v1h-1zM9 207h1v1h-1zM365 207h1v1h-1zM9 208h1v1h-1zM365 208h1v1h-1zM9 209h1v1h-1zM365 209h1v1h-1zM9 210h1v1h-1zM365 210h1v1h-1zM9 211h1v1h-1zM365 211h1v1h-1zM9 212h1v1h-1zM365 212h1v1h-1zM9 213h1v1h-1zM365 213h1v1h-1zM9 214h1v1h-1zM365 214h1v1h-1zM9 215h1v1h-1zM365 215h1v1h-1zM9 216h357v1h-357zM9 222h357v1h-357zM9 223h1v1h-1zM365 223h1v1h-1zM9 224h1v1h-1zM365 224h1v1h-1zM9 225h1v1h-1zM365 225h1v1h-1zM9 226h1v1h-1zM365 226h1v1h-1zM9 227h1v1h-1zM365 227h1v1h-1zM9 228h1v1h-1zM365 228h1v1h-1zM9 229h1v1h-1zM365 229h1v1h-1zM9 230h1v1h-1zM365 230h1v1h-1zM9 231h1v1h-1zM365 231h1v1h-1zM9 232h1v1h-1zM365 232h1v1h-1zM9 233h1v1h-1zM365 233h1v1h-1zM9 234h1v1h-1zM365 234h1v1h-1zM9 235h1v1h-1zM365 235h1v1h-1zM9 236h1v1h-1zM365 236h1v1h-1zM9 237h1v1h-1zM365 237h1v1h-1zM9 238h1v1h-1zM365 238h1v1h-1zM9 239h1v1h-1zM365 239h1v1h-1zM9 240h1v1h-1zM365 240h1v1h-1zM9 241h1v1h-1zM365 241h1v1h-1zM9 242h1v1h-1zM365 242h1v1h-1zM9 243h1v1h-1zM365 243h1v1h-1zM9 244h1v1h-1zM365 244h1v1h-1zM9 245h1v1h-1zM365 245h1v1h-1zM9 246h1v1h-1zM365 246h1v1h-1zM9 247h1v1h-1zM30 247h323v1h-323zM365 247h1v1h-1zM9 248h1v1h-1zM30 248h1v1h-1zM352 248h1v1h-1zM365 248h1v1h-1zM9 249h1v1h-1zM30 249h1v1h-1zM352 249h1v1h-1zM365 249h1v1h-1zM9 250h1v1h-1zM30 250h1v1h-1zM352 250h1v1h-1zM365 250h1v1h-1zM9 251h1v1h-1zM30 251h1v1h-1zM352 251h1v1h-1zM365 251h1v1h-1zM9 252h1v1h-1zM30 252h1v1h-1zM352 252h1v1h-1zM365 252h1v1h-1zM9 253h1v1h-1zM30 253h1v1h-1zM352 253h1v1h-1zM365 253h1v1h-1zM9 254h1v1h-1zM30 254h1v1h-1zM352 254h1v1h-1zM365 254h1v1h-1zM9 255h1v1h-1zM30 255h1v1h-1zM352 255h1v1h-1zM365 255h1v1h-1zM9 256h1v1h-1zM30 256h1v1h-1zM352 256h1v1h-1zM365 256h1v1h-1zM9 257h1v1h-1zM30 257h1v1h-1zM352 257h1v1h-1zM365 257h1v1h-1zM9 258h1v1h-1zM30 258h1v1h-1zM352 258h1v1h-1zM365 258h1v1h-1zM9 259h1v1h-1zM30 259h1v1h-1zM352 259h1v1h-1zM365 259h1v1h-1zM9 260h1v1h-1zM30 260h1v1h-1zM352 260h1v1h-1zM365 260h1v1h-1zM9 261h1v1h-1zM30 261h1v1h-1zM352 261h1v1h-1zM365 261h1v1h-1zM9 262h1v1h-1zM30 262h1v1h-1zM352 262h1v1h-1zM365 262h1v1h-1zM9 263h1v1h-1zM30 263h1v1h-1zM352 263h1v1h-1zM365 263h1v1h-1zM9 264h1v1h-1zM30 264h1v1h-1zM352 264h1v1h-1zM365 264h1v1h-1zM9 265h1v1h-1zM30 265h1v1h-1zM352 265h1v1h-1zM365 265h1v1h-1zM9 266h1v1h-1zM30 266h1v1h-1zM352 266h1v1h-1zM365 266h1v1h-1zM9 267h1v1h-1zM30 267h1v1h-1zM352 267h1v1h-1zM365 267h1v1h-1zM9 268h1v1h-1zM30 268h1v1h-1zM352 268h1v1h-1zM365 268h1v1h-1zM9 269h1v1h-1zM30 269h1v1h-1zM352 269h1v1h-1zM365 269h1v1h-1zM9 270h1v1h-1zM30 270h1v1h-1zM352 270h1v1h-1zM365 270h1v1h-1zM9 271h1v1h-1zM30 271h1v1h-1zM352 271h1v1h-1zM365 271h1v1h-1zM9 272h1v1h-1zM30 272h1v1h-1zM352 272h1v1h-1zM365 272h1v1h-1zM9 273h1v1h-1zM30 273h1v1h-1zM352 273h1v1h-1zM365 273h1v1h-1zM9 274h1v1h-1zM30 274h1v1h-1zM352 274h1v1h-1zM365 274h1v1h-1zM9 275h1v1h-1zM30 275h1v1h-1zM352 275h1v1h-1zM365 275h1v1h-1zM9 276h1v1h-1zM30 276h1v1h-1zM352 276h1v1h-1zM365 276h1v1h-1zM9 277h1v1h-1zM30 277h1v1h-1zM352 277h1v1h-1zM365 277h1v1h-1zM9 278h1v1h-1zM30 278h1v1h-1zM352 278h1v1h-1zM365 278h1v1h-1zM9 279h1v1h-1zM30 279h1v1h-1zM352 279h1v1h-1zM365 279h1v1h-1zM9 280h1v1h-1zM30 280h1v1h-1zM352 280h1v1h-1zM365 280h1v1h-1zM9 281h1v1h-1zM30 281h1v1h-1zM352 281h1v1h-1zM365 281h1v1h-1zM9 282h1v1h-1zM30 282h1v1h-1zM352 282h1v1h-1zM365 282h1v1h-1zM9 283h1v1h-1zM30 283h1v1h-1zM352 283h1v1h-1zM365 283h1v1h-1zM9 284h1v1h-1zM30 284h1v1h-1zM352 284h1v1h-1zM365 284h1v1h-1zM9 285h1v1h-1zM30 285h1v1h-1zM352 285h1v1h-1zM365 285h1v1h-1zM9 286h1v1h-1zM30 286h1v1h-1zM352 286h1v1h-1zM365 286h1v1h-1zM9 287h1v1h-1zM30 287h1v1h-1zM352 287h1v1h-1zM365 287h1v1h-1zM9 288h1v1h-1zM30 288h1v1h-1zM352 288h1v1h-1zM365 288h1v1h-1zM9 289h1v1h-1zM30 289h1v1h-1zM352 289h1v1h-1zM365 289h1v1h-1zM9 290h1v1h-1zM30 290h1v1h-1zM352 290h1v1h-1zM365 290h1v1h-1zM9 291h1v1h-1zM30 291h1v1h-1zM352 291h1v1h-1zM365 291h1v1h-1zM9 292h1v1h-1zM30 292h1v1h-1zM352 292h1v1h-1zM365 292h1v1h-1zM9 293h1v1h-1zM30 293h1v1h-1zM352 293h1v1h-1zM365 293h1v1h-1zM9 294h1v1h-1zM30 294h1v1h-1zM352 294h1v1h-1zM365 294h1v1h-1zM9 295h1v1h-1zM30 295h1v1h-1zM352 295h1v1h-1zM365 295h1v1h-1zM9 296h1v1h-1zM30 296h1v1h-1zM352 296h1v1h-1zM365 296h1v1h-1zM9 297h1v1h-1zM30 297h1v1h-1zM352 297h1v1h-1zM365 297h1v1h-1zM9 298h1v1h-1zM30 298h1v1h-1zM352 298h1v1h-1zM365 298h1v1h-1zM9 299h1v1h-1zM30 299h1v1h-1zM352 299h1v1h-1zM365 299h1v1h-1zM9 300h1v1h-1zM30 300h1v1h-1zM352 300h1v1h-1zM365 300h1v1h-1zM9 301h1v1h-1zM30 301h1v1h-1zM352 301h1v1h-1zM365 301h1v1h-1zM9 302h1v1h-1zM30 302h1v1h-1zM352 302h1v1h-1zM365 302h1v1h-1zM9 303h1v1h-1zM30 303h1v1h-1zM352 303h1v1h-1zM365 303h1v1h-1zM9 304h1v1h-1zM30 304h1v1h-1zM352 304h1v1h-1zM365 304h1v1h-1zM9 305h1v1h-1zM30 305h1v1h-1zM352 305h1v1h-1zM365 305h1v1h-1zM9 306h1v1h-1zM30 306h1v1h-1zM352 306h1v1h-1zM365 306h1v1h-1zM9 307h1v1h-1zM30 307h1v1h-1zM352 307h1v1h-1zM365 307h1v1h-1zM9 308h1v1h-1zM30 308h1v1h-1zM352 308h1v1h-1zM365 308h1v1h-1zM9 309h1v1h-1zM30 309h1v1h-1zM352 309h1v1h-1zM365 309h1v1h-1zM9 310h1v1h-1zM30 310h1v1h-1zM352 310h1v1h-1zM365 310h1v1h-1zM9 311h1v1h-1zM30 311h1v1h-1zM352 311h1v1h-1zM365 311h1v1h-1zM9 312h1v1h-1zM30 312h1v1h-1zM352 312h1v1h-1zM365 312h1v1h-1zM9 313h1v1h-1zM30 313h1v1h-1zM352 313h1v1h-1zM365 313h1v1h-1zM9 314h1v1h-1zM30 314h1v1h-1zM352 314h1v1h-1zM365 314h1v1h-1zM9 315h1v1h-1zM30 315h1v1h-1zM352 315h1v1h-1zM365 315h1v1h-1zM9 316h1v1h-1zM30 316h1v1h-1zM352 316h1v1h-1zM365 316h1v1h-1zM9 317h1v1h-1zM30 317h1v1h-1zM352 317h1v1h-1zM365 317h1v1h-1zM9 318h1v1h-1zM30 318h1v1h-1zM352 318h1v1h-1zM365 318h1v1h-1zM9 319h1v1h-1zM30 319h1v1h-1zM352 319h1v1h-1zM365 319h1v1h-1zM9 320h1v1h-1zM30 320h1v1h-1zM352 320h1v1h-1zM365 320h1v1h-1zM9 321h1v1h-1zM30 321h1v1h-1zM352 321h1v1h-1zM365 321h1v1h-1zM9 322h1v1h-1zM30 322h1v1h-1zM352 322h1v1h-1zM365 322h1v1h-1zM9 323h1v1h-1zM30 323h1v1h-1zM352 323h1v1h-1zM365 323h1v1h-1zM9 324h1v1h-1zM30 324h1v1h-1zM352 324h1v1h-1zM365 324h1v1h-1zM9 325h1v1h-1zM30 325h1v1h-1zM352 325h1v1h-1zM365 325h1v1h-1zM9 326h1v1h-1zM30 326h1v1h-1zM352 326h1v1h-1zM365 326h1v1h-1zM9 327h1v1h-1zM30 327h1v1h-1zM352 327h1v1h-1zM365 327h1v1h-1zM9 328h1v1h-1zM30 328h1v1h-1zM352 328h1v1h-1zM365 328h1v1h-1zM9 329h1v1h-1zM30 329h1v1h-1zM352 329h1v1h-1zM365 329h1v1h-1zM9 330h1v1h-1zM30 330h1v1h-1zM352 330h1v1h-1zM365 330h1v1h-1zM9 331h1v1h-1zM30 331h1v1h-1zM352 331h1v1h-1zM365 331h1v1h-1zM9 332h1v1h-1zM30 332h1v1h-1zM352 332h1v1h-1zM365 332h1v1h-1zM9 333h1v1h-1zM30 333h1v1h-1zM352 333h1v1h-1zM365 333h1v1h-1zM9 334h1v1h-1zM30 334h1v1h-1zM352 334h1v1h-1zM365 334h1v1h-1zM9 335h1v1h-1zM30 335h1v1h-1zM352 335h1v1h-1zM365 335h1v1h-1zM9 336h1v1h-1zM30 336h1v1h-1zM352 336h1v1h-1zM365 336h1v1h-1zM9 337h1v1h-1zM30 337h1v1h-1zM352 337h1v1h-1zM365 337h1v1h-1zM9 338h1v1h-1zM30 338h1v1h-1zM352 338h1v1h-1zM365 338h1v1h-1zM9 339h1v1h-1zM30 339h1v1h-1zM352 339h1v1h-1zM365 339h1v1h-1zM9 340h1v1h-1zM30 340h1v1h-1zM352 340h1v1h-1zM365 340h1v1h-1zM9 341h1v1h-1zM30 341h1v1h-1zM352 341h1v1h-1zM365 341h1v1h-1zM9 342h1v1h-1zM30 342h1v1h-1zM352 342h1v1h-1zM365 342h1v1h-1zM9 343h1v1h-1zM30 343h1v1h-1zM352 343h1v1h-1zM365 343h1v1h-1zM9 344h1v1h-1zM30 344h1v1h-1zM352 344h1v1h-1zM365 344h1v1h-1zM9 345h1v1h-1zM30 345h1v1h-1zM352 345h1v1h-1zM365 345h1v1h-1zM9 346h1v1h-1zM30 346h1v1h-1zM352 346h1v1h-1zM365 346h1v1h-1zM9 347h1v1h-1zM30 347h1v1h-1zM352 347h1v1h-1zM365 347h1v1h-1zM9 348h1v1h-1zM30 348h1v1h-1zM352 348h1v1h-1zM365 348h1v1h-1zM9 349h1v1h-1zM30 349h1v1h-1zM352 349h1v1h-1zM365 349h1v1h-1zM9 350h1v1h-1zM30 350h1v1h-1zM352 350h1v1h-1zM365 350h1v1h-1zM9 351h1v1h-1zM30 351h1v1h-1zM352 351h1v1h-1zM365 351h1v1h-1zM9 352h1v1h-1zM30 352h1v1h-1zM352 352h1v1h-1zM365 352h1v1h-1zM9 353h1v1h-1zM30 353h1v1h-1zM352 353h1v1h-1zM365 353h1v1h-1zM9 354h1v1h-1zM30 354h1v1h-1zM352 354h1v1h-1zM365 354h1v1h-1zM9 355h1v1h-1zM30 355h1v1h-1zM352 355h1v1h-1zM365 355h1v1h-1zM9 356h1v1h-1zM30 356h1v1h-1zM352 356h1v1h-1zM365 356h1v1h-1zM9 357h1v1h-1zM30 357h1v1h-1zM352 357h1v1h-1zM365 357h1v1h-1zM9 358h1v1h-1zM30 358h1v1h-1zM352 358h1v1h-1zM365 358h1v1h-1zM9 359h1v1h-1zM30 359h1v1h-1zM352 359h1v1h-1zM365 359h1v1h-1zM9 360h1v1h-1zM30 360h1v1h-1zM352 360h1v1h-1zM365 360h1v1h-1zM9 361h1v1h-1zM30 361h1v1h-1zM352 361h1v1h-1zM365 361h1v1h-1zM9 362h1v1h-1zM30 362h1v1h-1zM352 362h1v1h-1zM365 362h1v1h-1zM9 363h1v1h-1zM30 363h1v1h-1zM352 363h1v1h-1zM365 363h1v1h-1zM9 364h1v1h-1zM30 364h1v1h-1zM352 364h1v1h-1zM365 364h1v1h-1zM9 365h1v1h-1zM30 365h1v1h-1zM352 365h1v1h-1zM365 365h1v1h-1zM9 366h1v1h-1zM30 366h1v1h-1zM352 366h1v1h-1zM365 366h1v1h-1zM9 367h1v1h-1zM30 367h1v1h-1zM352 367h1v1h-1zM365 367h1v1h-1zM9 368h1v1h-1zM30 368h1v1h-1zM352 368h1v1h-1zM365 368h1v1h-1zM9 369h1v1h-1zM30 369h1v1h-1zM352 369h1v1h-1zM365 369h1v1h-1zM9 370h1v1h-1zM30 370h1v1h-1zM352 370h1v1h-1zM365 370h1v1h-1zM9 371h1v1h-1zM30 371h1v1h-1zM352 371h1v1h-1zM365 371h1v1h-1zM9 372h1v1h-1zM30 372h1v1h-1zM352 372h1v1h-1zM365 372h1v1h-1zM9 373h1v1h-1zM30 373h1v1h-1zM352 373h1v1h-1zM365 373h1v1h-1zM9 374h1v1h-1zM30 374h1v1h-1zM352 374h1v1h-1zM365 374h1v1h-1zM9 375h1v1h-1zM30 375h1v1h-1zM352 375h1v1h-1zM365 375h1v1h-1zM9 376h1v1h-1zM30 376h1v1h-1zM352 376h1v1h-1zM365 376h1v1h-1zM9 377h1v1h-1zM30 377h1v1h-1zM352 377h1v1h-1zM365 377h1v1h-1zM9 378h1v1h-1zM30 378h1v1h-1zM352 378h1v1h-1zM365 378h1v1h-1zM9 379h1v1h-1zM30 379h1v1h-1zM352 379h1v1h-1zM365 379h1v1h-1zM9 380h1v1h-1zM30 380h1v1h-1zM352 380h1v1h-1zM365 380h1v1h-1zM9 381h1v1h-1zM30 381h1v1h-1zM352 381h1v1h-1zM365 381h1v1h-1zM9 382h1v1h-1zM30 382h1v1h-1zM352 382h1v1h-1zM365 382h1v1h-1zM9 383h1v1h-1zM30 383h1v1h-1zM352 383h1v1h-1zM365 383h1v1h-1zM9 384h1v1h-1zM30 384h1v1h-1zM352 384h1v1h-1zM365 384h1v1h-1zM9 385h1v1h-1zM30 385h1v1h-1zM352 385h1v1h-1zM365 385h1v1h-1zM9 386h1v1h-1zM30 386h1v1h-1zM352 386h1v1h-1zM365 386h1v1h-1zM9 387h1v1h-1zM30 387h1v1h-1zM352 387h1v1h-1zM365 387h1v1h-1zM9 388h1v1h-1zM30 388h1v1h-1zM352 388h1v1h-1zM365 388h1v1h-1zM9 389h1v1h-1zM30 389h1v1h-1zM352 389h1v1h-1zM365 389h1v1h-1zM9 390h1v1h-1zM30 390h1v1h-1zM352 390h1v1h-1zM365 390h1v1h-1zM9 391h1v1h-1zM30 391h1v1h-1zM352 391h1v1h-1zM365 391h1v1h-1zM9 392h1v1h-1zM30 392h1v1h-1zM352 392h1v1h-1zM365 392h1v1h-1zM9 393h1v1h-1zM30 393h1v1h-1zM352 393h1v1h-1zM365 393h1v1h-1zM9 394h1v1h-1zM30 394h1v1h-1zM352 394h1v1h-1zM365 394h1v1h-1zM9 395h1v1h-1zM30 395h1v1h-1zM352 395h1v1h-1zM365 395h1v1h-1zM9 396h1v1h-1zM30 396h1v1h-1zM352 396h1v1h-1zM365 396h1v1h-1zM9 397h1v1h-1zM30 397h1v1h-1zM352 397h1v1h-1zM365 397h1v1h-1zM9 398h1v1h-1zM30 398h1v1h-1zM352 398h1v1h-1zM365 398h1v1h-1zM9 399h1v1h-1zM30 399h1v1h-1zM352 399h1v1h-1zM365 399h1v1h-1zM9 400h1v1h-1zM30 400h1v1h-1zM352 400h1v1h-1zM365 400h1v1h-1zM9 401h1v1h-1zM30 401h1v1h-1zM352 401h1v1h-1zM365 401h1v1h-1zM9 402h1v1h-1zM30 402h1v1h-1zM352 402h1v1h-1zM365 402h1v1h-1zM9 403h1v1h-1zM30 403h1v1h-1zM352 403h1v1h-1zM365 403h1v1h-1zM9 404h1v1h-1zM30 404h1v1h-1zM352 404h1v1h-1zM365 404h1v1h-1zM9 405h1v1h-1zM30 405h1v1h-1zM352 405h1v1h-1zM365 405h1v1h-1zM9 406h1v1h-1zM30 406h1v1h-1zM352 406h1v1h-1zM365 406h1v1h-1zM9 407h1v1h-1zM30 407h1v1h-1zM352 407h1v1h-1zM365 407h1v1h-1zM9 408h1v1h-1zM30 408h1v1h-1zM352 408h1v1h-1zM365 408h1v1h-1zM9 409h1v1h-1zM30 409h1v1h-1zM352 409h1v1h-1zM365 409h1v1h-1zM9 410h1v1h-1zM30 410h1v1h-1zM352 410h1v1h-1zM365 410h1v1h-1zM9 411h1v1h-1zM30 411h1v1h-1zM352 411h1v1h-1zM365 411h1v1h-1zM9 412h1v1h-1zM30 412h1v1h-1zM352 412h1v1h-1zM365 412h1v1h-1zM9 413h1v1h-1zM30 413h1v1h-1zM352 413h1v1h-1zM365 413h1v1h-1zM9 414h1v1h-1zM30 414h1v1h-1zM352 414h1v1h-1zM365 414h1v1h-1zM9 415h1v1h-1zM30 415h1v1h-1zM352 415h1v1h-1zM365 415h1v1h-1zM9 416h1v1h-1zM30 416h1v1h-1zM352 416h1v1h-1zM365 416h1v1h-1zM9 417h1v1h-1zM30 417h1v1h-1zM352 417h1v1h-1zM365 417h1v1h-1zM9 418h1v1h-1zM30 418h1v1h-1zM352 418h1v1h-1zM365 418h1v1h-1zM9 419h1v1h-1zM30 419h1v1h-1zM352 419h1v1h-1zM365 419h1v1h-1zM9 420h1v1h-1zM30 420h1v1h-1zM352 420h1v1h-1zM365 420h1v1h-1zM9 421h1v1h-1zM30 421h1v1h-1zM352 421h1v1h-1zM365 421h1v1h-1zM9 422h1v1h-1zM30 422h1v1h-1zM352 422h1v1h-1zM365 422h1v1h-1zM9 423h1v1h-1zM288 423h65v1h-65zM365 423h1v1h-1zM9 424h1v1h-1zM365 424h1v1h-1zM9 425h1v1h-1zM365 425h1v1h-1zM9 426h1v1h-1zM365 426h1v1h-1zM9 427h1v1h-1zM365 427h1v1h-1zM9 428h1v1h-1zM365 428h1v1h-1zM9 429h1v1h-1zM365 429h1v1h-1zM9 430h1v1h-1zM365 430h1v1h-1zM9 431h1v1h-1zM365 431h1v1h-1zM9 432h1v1h-1zM365 432h1v1h-1zM9 433h1v1h-1zM365 433h1v1h-1zM9 434h1v1h-1zM365 434h1v1h-1zM9 435h1v1h-1zM365 435h1v1h-1zM9 436h1v1h-1zM365 436h1v1h-1zM9 437h1v1h-1zM365 437h1v1h-1zM9 438h1v1h-1zM365 438h1v1h-1zM9 439h1v1h-1zM365 439h1v1h-1zM9 440h1v1h-1zM365 440h1v1h-1zM9 441h1v1h-1zM365 441h1v1h-1zM9 442h1v1h-1zM365 442h1v1h-1zM9 443h1v1h-1zM365 443h1v1h-1zM9 444h1v1h-1zM365 444h1v1h-1zM9 445h1v1h-1zM365 445h1v1h-1zM9 446h1v1h-1zM365 446h1v1h-1zM9 447h1v1h-1zM365 447h1v1h-1zM9 448h1v1h-1zM365 448h1v1h-1zM9 449h1v1h-1zM365 449h1v1h-1zM9 450h1v1h-1zM365 450h1v1h-1zM9 451h1v1h-1zM365 451h1v1h-1zM9 452h1v1h-1zM365 452h1v1h-1zM9 453h1v1h-1zM365 453h1v1h-1zM9 454h1v1h-1zM365 454h1v1h-1zM9 455h1v1h-1zM365 455h1v1h-1zM9 456h1v1h-1zM365 456h1v1h-1zM9 457h1v1h-1zM365 457h1v1h-1zM9 458h1v1h-1zM365 458h1v1h-1zM9 459h1v1h-1zM365 459h1v1h-1zM9 460h1v1h-1zM365 460h1v1h-1zM9 461h1v1h-1zM365 461h1v1h-1zM9 462h1v1h-1zM365 462h1v1h-1zM9 463h1v1h-1zM365 463h1v1h-1zM9 464h357v1h-357z"/><path fill="#ff0000" d="M88 56h21v1h-21zM169 56h21v1h-21zM250 56h22v1h-22zM332 56h20v1h-20zM86 57h3v1h-3zM108 57h1v1h-1zM167 57h3v1h-3zM190 57h1v1h-1zM249 57h2v1h-2zM271 57h1v1h-1zM330 57h3v1h-3zM85 58h2v1h-2zM109 58h1v1h-1zM166 58h2v1h-2zM190 58h1v1h-1zM248 58h2v1h-2zM271 58h1v1h-1zM329 58h2v1h-2zM84 59h2v1h-2zM109 59h1v1h-1zM165 59h2v1h-2zM190 59h1v1h-1zM247 59h2v1h-2zM271 59h2v1h-2zM328 59h2v1h-2zM83 60h2v1h-2zM109 60h1v1h-1zM165 60h1v1h-1zM190 60h1v1h-1zM246 60h2v1h-2zM272 60h1v1h-1zM327 60h2v1h-2zM83 61h1v1h-1zM109 61h1v1h-1zM164 61h2v1h-2zM190 61h2v1h-2zM245 61h2v1h-2zM272 61h1v1h-1zM327 61h1v1h-1zM82 62h2v1h-2zM109 62h1v1h-1zM164 62h1v1h-1zM191 62h1v1h-1zM245 62h1v1h-1zM272 62h1v1h-1zM326 62h2v1h-2zM82 63h1v1h-1zM109 63h2v1h-2zM163 63h2v1h-2zM191 63h1v1h-1zM244 63h2v1h-2zM272 63h1v1h-1zM326 63h1v1h-1zM81 64h2v1h-2zM110 64h1v1h-1zM163 64h1v1h-1zM191 64h1v1h-1zM244 64h1v1h-1zM272 64h1v1h-1zM325 64h2v1h-2zM81 65h1v1h-1zM110 65h1v1h-1zM162 65h2v1h-2zM191 65h1v1h-1zM243 65h2v1h-2zM272 65h1v1h-1zM325 65h1v1h-1zM80 66h2v1h-2zM110 66h1v1h-1zM162 66h1v1h-1zM191 66h1v1h-1zM243 66h1v1h-1zM272 66h2v1h-2zM324 66h2v1h-2zM80 67h1v1h-1zM110 67h1v1h-1zM161 67h2v1h-2zM191 67h1v1h-1zM243 67h1v1h-1zM273 67h1v1h-1zM324 67h1v1h-1zM80 68h1v1h-1zM110 68h1v1h-1zM161 68h1v1h-1zM191 68h2v1h-2zM242 68h2v1h-2zM273 68h1v1h-1zM324 68h1v1h-1zM79 69h2v1h-2zM110 69h1v1h-1zM161 69h1v1h-1zM192 69h1v1h-1zM242 69h1v1h-1zM273 69h1v1h-1zM323 69h2v1h-2zM79 70h1v1h-1zM110 70h1v1h-1zM160 70h2v1h-2zM192 70h1v1h-1zM242 70h1v1h-1zM273 70h1v1h-1zM323 70h1v1h-1zM79 71h1v1h-1zM110 71h2v1h-2zM160 71h1v1h-1zM192 71h1v1h-1zM242 71h1v1h-1zM273 71h1v1h-1zM323 71h1v1h-1zM79 72h1v1h-1zM111 72h1v1h-1zM160 72h1v1h-1zM192 72h1v1h-1zM241 72h2v1h-2zM273 72h1v1h-1zM323 72h1v1h-1zM79 73h1v1h-1zM111 73h1v1h-1zM160 73h1v1h-1zM192 73h1v1h-1zM241 73h1v1h-1zM273 73h1v1h-1zM323 73h1v1h-1zM78 74h1v1h-1zM111 74h1v1h-1zM160 74h1v1h-1zM192 74h1v1h-1zM241 74h1v1h-1zM274 74h1v1h-1zM322 74h1v1h-1zM78 75h1v1h-1zM111 75h1v1h-1zM159 75h2v1h-2zM192 75h1v1h-1zM241 75h1v1h-1zM274 75h1v1h-1zM322 75h1v1h-1zM78 76h1v1h-1zM111 76h1v1h-1zM159 76h1v1h-1zM192 76h2v1h-2zM240 76h2v1h-2zM274 76h1v1h-1zM322 76h1v1h-1zM78 77h1v1h-1zM111 77h1v1h-1zM159 77h1v1h-1zM193 77h1v1h-1zM240 77h1v1h-1zM274 77h1v1h-1zM322 77h1v1h-1zM77 78h2v1h-2zM111 78h2v1h-2zM159 78h1v1h-1zM193 78h1v1h-1zM240 78h1v1h-1zM274 78h1v1h-1zM321 78h2v1h-2zM77 79h1v1h-1zM112 79h1v1h-1zM159 79h1v1h-1zM193 79h1v1h-1zM240 79h1v1h-1zM274 79h1v1h-1zM321 79h1v1h-1zM77 80h1v1h-1zM112 80h1v1h-1zM158 80h2v1h-2zM193 80h1v1h-1zM240 80h1v1h-1zM274 80h1v1h-1zM321 80h1v1h-1zM77 81h1v1h-1zM112 81h1v1h-1zM158 81h1v1h-1zM193 81h1v1h-1zM240 81h1v1h-1zM274 81h2v1h-2zM321 81h1v1h-1zM77 82h1v1h-1zM112 82h1v1h-1zM158 82h1v1h-1zM193 82h1v1h-1zM239 82h2v1h-2zM275 82h1v1h-1zM321 82h1v1h-1zM77 83h1v1h-1zM112 83h1v1h-1zM158 83h1v1h-1zM193 83h2v1h-2zM239 83h1v1h-1zM275 83h1v1h-1zM321 83h1v1h-1zM76 84h2v1h-2zM112 84h1v1h-1zM158 84h1v1h-1zM194 84h1v1h-1zM239 84h1v1h-1zM275 84h1v1h-1zM320 84h2v1h-2zM76 85h1v1h-1zM112 85h2v1h-2zM158 85h1v1h-1zM194 85h1v1h-1zM239 85h1v1h-1zM275 85h1v1h-1zM320 85h1v1h-1zM76 86h1v1h-1zM113 86h1v1h-1zM157 86h2v1h-2zM194 86h1v1h-1zM239 86h1v1h-1zM275 86h1v1h-1zM320 86h1v1h-1zM76 87h1v1h-1zM113 87h1v1h-1zM157 87h1v1h-1zM194 87h1v1h-1zM239 87h1v1h-1zM275 87h1v1h-1zM320 87h1v1h-1zM76 88h1v1h-1zM113 88h1v1h-1zM157 88h1v1h-1zM194 88h1v1h-1zM239 88h1v1h-1zM275 88h2v1h-2zM320 88h1v1h-1zM76 89h1v1h-1zM113 89h1v1h-1zM157 89h1v1h-1zM194 89h1v1h-1zM238 89h2v1h-2zM276 89h1v1h-1zM320 89h1v1h-1zM76 90h1v1h-1zM113 90h1v1h-1zM157 90h1v1h-1zM194 90h2v1h-2zM238 90h1v1h-1zM276 90h1v1h-1zM320 90h1v1h-1zM75 91h2v1h-2zM113 91h1v1h-1zM157 91h1v1h-1zM195 91h1v1h-1zM238 91h1v1h-1zM276 91h1v1h-1zM319 91h2v1h-2zM75 92h1v1h-1zM113 92h1v1h-1zM157 92h1v1h-1zM195 92h1v1h-1zM238 92h1v1h-1zM276 92h1v1h-1zM319 92h1v1h-1zM75 93h1v1h-1zM113 93h2v1h-2zM156 93h2v1h-2zM195 93h1v1h-1zM238 93h1v1h-1zM276 93h1v1h-1zM319 93h1v1h-1zM75 94h1v1h-1zM114 94h1v1h-1zM156 94h1v1h-1zM195 94h1v1h-1zM238 94h1v1h-1zM276 94h1v1h-1zM319 94h1v1h-1zM75 95h1v1h-1zM114 95h1v1h-1zM156 95h1v1h-1zM195 95h1v1h-1zM238 95h1v1h-1zM276 95h2v1h-2zM319 95h1v1h-1zM75 96h1v1h-1zM114 96h1v1h-1zM156 96h1v1h-1zM195 96h1v1h-1zM237 96h2v1h-2zM277 96h1v1h-1zM319 96h1v1h-1zM75 97h1v1h-1zM114 97h1v1h-1zM156 97h1v1h-1zM195 97h2v1h-2zM237 97h1v1h-1zM277 97h1v1h-1zM319 97h1v1h-1zM75 98h1v1h-1zM114 98h1v1h-1zM156 98h1v1h-1zM196 98h1v1h-1zM237 98h1v1h-1zM277 98h1v1h-1zM319 98h1v1h-1zM74 99h2v1h-2zM114 99h1v1h-1zM156 99h1v1h-1zM196 99h1v1h-1zM237 99h1v1h-1zM277 99h1v1h-1zM318 99h2v1h-2zM74 100h1v1h-1zM114 100h2v1h-2zM156 100h1v1h-1zM196 100h1v1h-1zM237 100h1v1h-1zM277 100h1v1h-1zM318 100h1v1h-1zM74 101h1v1h-1zM115 101h1v1h-1zM155 101h2v1h-2zM196 101h1v1h-1zM237 101h1v1h-1zM277 101h1v1h-1zM318 101h1v1h-1zM74 102h1v1h-1zM115 102h1v1h-1zM155 102h1v1h-1zM196 102h1v1h-1zM237 102h1v1h-1zM277 102h2v1h-2zM318 102h1v1h-1zM74 103h1v1h-1zM115 103h1v1h-1zM155 103h1v1h-1zM196 103h1v1h-1zM236 103h2v1h-2zM278 103h1v1h-1zM318 103h1v1h-1zM74 104h1v1h-1zM115 104h1v1h-1zM155 104h1v1h-1zM196 104h2v1h-2zM236 104h1v1h-1zM278 104h1v1h-1zM318 104h1v1h-1zM74 105h1v1h-1zM115 105h1v1h-1zM155 105h1v1h-1zM197 105h1v1h-1zM236 105h1v1h-1zM278 105h1v1h-1zM318 105h1v1h-1zM73 106h2v1h-2zM115 106h1v1h-1zM155 106h1v1h-1zM197 106h1v1h-1zM236 106h1v1h-1zM278 106h1v1h-1zM317 106h2v1h-2zM73 107h1v1h-1zM115 107h2v1h-2zM155 107h1v1h-1zM197 107h1v1h-1zM236 107h1v1h-1zM278 107h1v1h-1zM317 107h1v1h-1zM73 108h1v1h-1zM116 108h1v1h-1zM154 108h2v1h-2zM197 108h1v1h-1zM236 108h1v1h-1zM278 108h1v1h-1zM317 108h1v1h-1zM73 109h1v1h-1zM116 109h1v1h-1zM154 109h1v1h-1zM197 109h1v1h-1zM236 109h1v1h-1zM278 109h2v1h-2zM317 109h1v1h-1zM73 110h1v1h-1zM116 110h1v1h-1zM154 110h1v1h-1zM197 110h1v1h-1zM235 110h2v1h-2zM279 110h1v1h-1zM317 110h1v1h-1zM73 111h1v1h-1zM116 111h1v1h-1zM154 111h1v1h-1zM197 111h1v1h-1zM235 111h1v1h-1zM279 111h1v1h-1zM317 111h1v1h-1zM73 112h1v1h-1zM116 112h1v1h-1zM154 112h1v1h-1zM197 112h2v1h-2zM235 112h1v1h-1zM279 112h1v1h-1zM317 112h1v1h-1zM72 113h2v1h-2zM116 113h1v1h-1zM154 113h1v1h-1zM198 113h1v1h-1zM235 113h1v1h-1zM279 113h1v1h-1zM316 113h2v1h-2zM72 114h1v1h-1zM116 114h2v1h-2zM154 114h1v1h-1zM198 114h1v1h-1zM235 114h1v1h-1zM279 114h1v1h-1zM316 114h1v1h-1zM72 115h1v1h-1zM117 115h1v1h-1zM153 115h2v1h-2zM198 115h1v1h-1zM235 115h1v1h-1zM279 115h1v1h-1zM316 115h1v1h-1zM72 116h1v1h-1zM117 116h1v1h-1zM153 116h1v1h-1zM198 116h1v1h-1zM235 116h1v1h-1zM279 116h1v1h-1zM316 116h1v1h-1zM72 117h1v1h-1zM117 117h1v1h-1zM153 117h1v1h-1zM198 117h1v1h-1zM235 117h1v1h-1zM279 117h2v1h-2zM316 117h1v1h-1zM72 118h1v1h-1zM117 118h1v1h-1zM153 118h1v1h-1zM198 118h1v1h-1zM234 118h1v1h-1zM280 118h1v1h-1zM316 118h1v1h-1zM72 119h1v1h-1zM117 119h1v1h-1zM153 119h1v1h-1zM198 119h2v1h-2zM234 119h1v1h-1zM280 119h1v1h-1zM316 119h1v1h-1zM71 120h2v1h-2zM117 120h1v1h-1zM153 120h1v1h-1zM199 120h1v1h-1zM234 120h1v1h-1zM280 120h1v1h-1zM315 120h2v1h-2zM71 121h1v1h-1zM117 121h2v1h-2zM153 121h1v1h-1zM199 121h1v1h-1zM234 121h1v1h-1zM280 121h1v1h-1zM315 121h1v1h-1zM71 122h1v1h-1zM118 122h1v1h-1zM152 122h2v1h-2zM199 122h1v1h-1zM234 122h1v1h-1zM280 122h1v1h-1zM315 122h1v1h-1zM71 123h1v1h-1zM118 123h1v1h-1zM152 123h1v1h-1zM199 123h1v1h-1zM234 123h1v1h-1zM280 123h2v1h-2zM315 123h1v1h-1zM118 124h1v1h-1zM199 124h1v1h-1zM281 124h1v1h-1zM71 125h1v1h-1zM118 125h1v1h-1zM152 125h1v1h-1zM199 125h2v1h-2zM233 125h2v1h-2zM281 125h1v1h-1zM315 125h1v1h-1zM71 126h1v1h-1zM118 126h1v1h-1zM152 126h1v1h-1zM200 126h1v1h-1zM233 126h1v1h-1zM281 126h1v1h-1zM315 126h1v1h-1zM70 127h2v1h-2zM118 127h2v1h-2zM152 127h1v1h-1zM200 127h1v1h-1zM233 127h1v1h-1zM281 127h1v1h-1zM314 127h2v1h-2zM70 128h1v1h-1zM119 128h1v1h-1zM152 128h1v1h-1zM200 128h1v1h-1zM233 128h1v1h-1zM281 128h2v1h-2zM314 128h1v1h-1zM70 129h1v1h-1zM119 129h1v1h-1zM151 129h2v1h-2zM200 129h2v1h-2zM233 129h1v1h-1zM282 129h1v1h-1zM314 129h1v1h-1zM70 130h1v1h-1zM119 130h1v1h-1zM151 130h1v1h-1zM201 130h1v1h-1zM233 130h1v1h-1zM282 130h1v1h-1zM314 130h1v1h-1zM70 131h1v1h-1zM119 131h2v1h-2zM151 131h1v1h-1zM201 131h1v1h-1zM233 131h1v1h-1zM282 131h1v1h-1zM314 131h1v1h-1zM70 132h1v1h-1zM120 132h1v1h-1zM151 132h1v1h-1zM201 132h1v1h-1zM232 132h2v1h-2zM282 132h1v1h-1zM314 132h1v1h-1zM70 133h1v1h-1zM120 133h1v1h-1zM151 133h1v1h-1zM201 133h1v1h-1zM232 133h1v1h-1zM282 133h2v1h-2zM314 133h1v1h-1zM70 134h1v1h-1zM120 134h1v1h-1zM151 134h1v1h-1zM201 134h2v1h-2zM232 134h1v1h-1zM283 134h1v1h-1zM314 134h1v1h-1zM69 135h1v1h-1zM120 135h2v1h-2zM151 135h1v1h-1zM202 135h1v1h-1zM232 135h1v1h-1zM283 135h1v1h-1zM313 135h1v1h-1zM69 136h1v1h-1zM121 136h1v1h-1zM151 136h1v1h-1zM202 136h1v1h-1zM232 136h1v1h-1zM283 136h2v1h-2zM313 136h1v1h-1zM69 137h1v1h-1zM121 137h1v1h-1zM150 137h2v1h-2zM202 137h2v1h-2zM232 137h1v1h-1zM284 137h1v1h-1zM313 137h1v1h-1zM69 138h1v1h-1zM121 138h2v1h-2zM150 138h1v1h-1zM203 138h1v1h-1zM232 138h1v1h-1zM284 138h2v1h-2zM313 138h1v1h-1zM69 139h1v1h-1zM122 139h1v1h-1zM150 139h1v1h-1zM203 139h2v1h-2zM232 139h1v1h-1zM285 139h1v1h-1zM313 139h1v1h-1zM69 140h1v1h-1zM122 140h2v1h-2zM150 140h1v1h-1zM204 140h1v1h-1zM231 140h2v1h-2zM285 140h2v1h-2zM313 140h1v1h-1zM69 141h1v1h-1zM123 141h1v1h-1zM150 141h1v1h-1zM204 141h2v1h-2zM231 141h1v1h-1zM286 141h1v1h-1zM313 141h1v1h-1zM68 142h2v1h-2zM123 142h2v1h-2zM150 142h1v1h-1zM205 142h1v1h-1zM231 142h1v1h-1zM286 142h2v1h-2zM312 142h2v1h-2zM68 143h1v1h-1zM124 143h2v1h-2zM150 143h1v1h-1zM205 143h2v1h-2zM231 143h1v1h-1zM287 143h1v1h-1zM312 143h1v1h-1zM68 144h1v1h-1zM125 144h2v1h-2zM150 144h1v1h-1zM206 144h2v1h-2zM231 144h1v1h-1zM287 144h2v1h-2zM312 144h1v1h-1zM68 145h1v1h-1zM126 145h2v1h-2zM149 145h1v1h-1zM207 145h2v1h-2zM231 145h1v1h-1zM288 145h2v1h-2zM312 145h1v1h-1zM68 146h1v1h-1zM127 146h3v1h-3zM149 146h1v1h-1zM208 146h3v1h-3zM289 146h3v1h-3zM312 146h1v1h-1zM129 147h1v1h-1zM149 147h1v1h-1zM210 147h1v1h-1zM291 147h2v1h-2z"/><path fill="#0000ff" d="M68 124h9v1h-9zM150 124h8v1h-8zM231 124h8v1h-8zM312 124h9v1h-9zM68 125h1v1h-1zM76 125h1v1h-1zM150 125h1v1h-1zM157 125h2v1h-2zM231 125h1v1h-1zM238 125h2v1h-2zM312 125h1v1h-1zM320 125h1v1h-1zM68 126h1v1h-1zM76 126h2v1h-2zM149 126h2v1h-2zM158 126h1v1h-1zM231 126h1v1h-1zM239 126h1v1h-1zM312 126h1v1h-1zM320 126h2v1h-2zM68 127h1v1h-1zM77 127h1v1h-1zM149 127h1v1h-1zM158 127h2v1h-2zM231 127h1v1h-1zM239 127h2v1h-2zM312 127h1v1h-1zM321 127h1v1h-1zM68 128h1v1h-1zM77 128h2v1h-2zM149 128h1v1h-1zM159 128h1v1h-1zM231 128h1v1h-1zM240 128h1v1h-1zM312 128h1v1h-1zM321 128h2v1h-2zM68 129h1v1h-1zM78 129h1v1h-1zM149 129h1v1h-1zM159 129h1v1h-1zM231 129h1v1h-1zM240 129h2v1h-2zM312 129h1v1h-1zM322 129h1v1h-1zM68 130h1v1h-1zM78 130h1v1h-1zM149 130h1v1h-1zM159 130h2v1h-2zM231 130h1v1h-1zM241 130h1v1h-1zM312 130h1v1h-1zM322 130h1v1h-1zM68 131h1v1h-1zM78 131h2v1h-2zM149 131h1v1h-1zM160 131h1v1h-1zM231 131h1v1h-1zM241 131h1v1h-1zM312 131h1v1h-1zM322 131h2v1h-2zM68 132h1v1h-1zM79 132h1v1h-1zM149 132h1v1h-1zM160 132h2v1h-2zM230 132h2v1h-2zM241 132h2v1h-2zM312 132h1v1h-1zM323 132h1v1h-1zM68 133h1v1h-1zM79 133h2v1h-2zM149 133h1v1h-1zM161 133h1v1h-1zM230 133h1v1h-1zM242 133h1v1h-1zM312 133h1v1h-1zM323 133h2v1h-2zM68 134h1v1h-1zM80 134h1v1h-1zM149 134h1v1h-1zM161 134h1v1h-1zM230 134h1v1h-1zM242 134h2v1h-2zM312 134h1v1h-1zM324 134h1v1h-1zM68 135h1v1h-1zM80 135h1v1h-1zM149 135h1v1h-1zM161 135h2v1h-2zM230 135h1v1h-1zM243 135h1v1h-1zM312 135h1v1h-1zM324 135h1v1h-1zM68 136h1v1h-1zM80 136h2v1h-2zM149 136h1v1h-1zM162 136h1v1h-1zM230 136h1v1h-1zM243 136h1v1h-1zM312 136h1v1h-1zM324 136h2v1h-2zM68 137h1v1h-1zM81 137h1v1h-1zM149 137h1v1h-1zM162 137h2v1h-2zM230 137h1v1h-1zM243 137h2v1h-2zM312 137h1v1h-1zM325 137h1v1h-1zM67 138h2v1h-2zM81 138h2v1h-2zM149 138h1v1h-1zM163 138h1v1h-1zM230 138h1v1h-1zM244 138h1v1h-1zM311 138h2v1h-2zM325 138h2v1h-2zM67 139h1v1h-1zM82 139h1v1h-1zM149 139h1v1h-1zM163 139h2v1h-2zM230 139h1v1h-1zM244 139h2v1h-2zM311 139h1v1h-1zM326 139h1v1h-1zM67 140h1v1h-1zM82 140h2v1h-2zM149 140h1v1h-1zM164 140h1v1h-1zM230 140h1v1h-1zM245 140h2v1h-2zM311 140h1v1h-1zM326 140h2v1h-2zM67 141h1v1h-1zM83 141h2v1h-2zM149 141h1v1h-1zM164 141h2v1h-2zM230 141h1v1h-1zM246 141h2v1h-2zM311 141h1v1h-1zM327 141h2v1h-2zM67 142h1v1h-1zM84 142h2v1h-2zM149 142h1v1h-1zM165 142h2v1h-2zM230 142h1v1h-1zM247 142h1v1h-1zM311 142h1v1h-1zM328 142h2v1h-2zM67 143h1v1h-1zM85 143h1v1h-1zM149 143h1v1h-1zM166 143h2v1h-2zM230 143h1v1h-1zM248 143h1v1h-1zM311 143h1v1h-1zM329 143h1v1h-1zM67 144h1v1h-1zM85 144h3v1h-3zM148 144h2v1h-2zM167 144h2v1h-2zM230 144h1v1h-1zM248 144h3v1h-3zM311 144h1v1h-1zM330 144h2v1h-2zM67 145h1v1h-1zM87 145h2v1h-2zM148 145h1v1h-1zM168 145h2v1h-2zM230 145h1v1h-1zM250 145h2v1h-2zM311 145h1v1h-1zM331 145h2v1h-2zM67 146h1v1h-1zM88 146h5v1h-5zM148 146h1v1h-1zM169 146h5v1h-5zM230 146h1v1h-1zM251 146h5v1h-5zM311 146h1v1h-1zM332 146h5v1h-5zM27 147h41v1h-41zM92 147h17v1h-17zM130 147h19v1h-19zM173 147h17v1h-17zM211 147h20v1h-20zM255 147h17v1h-17zM293 147h19v1h-19zM336 147h16v1h-16zM108 148h1v1h-1zM128 148h3v1h-3zM189 148h1v1h-1zM209 148h3v1h-3zM271 148h1v1h-1zM291 148h3v1h-3zM108 149h1v1h-1zM127 149h2v1h-2zM189 149h1v1h-1zM208 149h2v1h-2zM271 149h1v1h-1zM290 149h2v1h-2zM108 150h1v1h-1zM126 150h2v1h-2zM189 150h1v1h-1zM207 150h2v1h-2zM271 150h1v1h-1zM289 150h2v1h-2zM108 151h1v1h-1zM125 151h2v1h-2zM189 151h1v1h-1zM206 151h2v1h-2zM271 151h1v1h-1zM288 151h2v1h-2zM108 152h1v1h-1zM124 152h2v1h-2zM189 152h2v1h-2zM205 152h2v1h-2zM271 152h1v1h-1zM287 152h2v1h-2zM108 153h1v1h-1zM123 153h2v1h-2zM190 153h1v1h-1zM205 153h1v1h-1zM271 153h1v1h-1zM286 153h2v1h-2zM108 154h1v1h-1zM123 154h1v1h-1zM190 154h1v1h-1zM204 154h2v1h-2zM271 154h1v1h-1zM285 154h2v1h-2zM108 155h1v1h-1zM122 155h2v1h-2zM190 155h1v1h-1zM204 155h1v1h-1zM271 155h1v1h-1zM285 155h1v1h-1zM108 156h1v1h-1zM122 156h1v1h-1zM190 156h1v1h-1zM203 156h2v1h-2zM271 156h1v1h-1zM284 156h2v1h-2zM108 157h1v1h-1zM121 157h2v1h-2zM190 157h1v1h-1zM203 157h1v1h-1zM271 157h1v1h-1zM284 157h1v1h-1zM108 158h2v1h-2zM121 158h1v1h-1zM190 158h1v1h-1zM202 158h2v1h-2zM271 158h1v1h-1zM283 158h2v1h-2zM109 159h1v1h-1zM120 159h2v1h-2zM190 159h1v1h-1zM202 159h1v1h-1zM271 159h1v1h-1zM283 159h1v1h-1zM109 160h1v1h-1zM120 160h1v1h-1zM190 160h1v1h-1zM201 160h2v1h-2zM271 160h1v1h-1zM283 160h1v1h-1zM109 161h1v1h-1zM120 161h1v1h-1zM190 161h1v1h-1zM201 161h1v1h-1zM271 161h1v1h-1zM282 161h2v1h-2zM109 162h1v1h-1zM119 162h2v1h-2zM190 162h1v1h-1zM201 162h1v1h-1zM271 162h1v1h-1zM282 162h1v1h-1zM109 163h1v1h-1zM119 163h1v1h-1zM190 163h1v1h-1zM200 163h2v1h-2zM271 163h1v1h-1zM281 163h2v1h-2zM109 164h1v1h-1zM118 164h2v1h-2zM190 164h1v1h-1zM200 164h1v1h-1zM272 164h1v1h-1zM281 164h1v1h-1zM109 165h1v1h-1zM118 165h1v1h-1zM190 165h1v1h-1zM199 165h2v1h-2zM272 165h1v1h-1zM281 165h1v1h-1zM109 166h1v1h-1zM118 166h1v1h-1zM190 166h1v1h-1zM199 166h1v1h-1zM272 166h1v1h-1zM280 166h2v1h-2zM109 167h1v1h-1zM117 167h2v1h-2zM190 167h1v1h-1zM199 167h1v1h-1zM272 167h1v1h-1zM280 167h1v1h-1zM109 168h1v1h-1zM117 168h1v1h-1zM190 168h1v1h-1zM198 168h2v1h-2zM272 168h1v1h-1zM279 168h2v1h-2zM109 169h1v1h-1zM116 169h2v1h-2zM190 169h1v1h-1zM197 169h2v1h-2zM272 169h1v1h-1zM279 169h1v1h-1zM109 170h8v1h-8zM191 170h7v1h-7zM272 170h8v1h-8zM199 281h36v1h-36zM97 282h103v1h-103zM234 282h32v1h-32zM265 283h12v1h-12zM276 284h8v1h-8zM283 285h6v1h-6zM288 286h5v1h-5zM292 287h4v1h-4zM295 288h4v1h-4zM297 289h3v1h-3zM299 290h2v1h-2zM300 291h2v1h-2zM301 292h2v1h-2zM302 293h1v1h-1zM301 294h2v1h-2zM301 295h1v1h-1zM300 296h2v1h-2zM299 297h2v1h-2zM297 298h3v1h-3zM294 299h4v1h-4zM290 300h5v1h-5zM284 301h7v1h-7zM106 302h179v1h-179zM93 303h14v1h-14zM86 304h8v1h-8zM80 305h7v1h-7zM76 306h5v1h-5zM73 307h4v1h-4zM71 308h3v1h-3zM69 309h2v1h-2zM67 310h3v1h-3zM66 311h2v1h-2zM66 312h1v1h-1zM65 313h2v1h-2zM65 314h2v1h-2zM66 315h1v1h-1zM66 316h2v1h-2zM67 317h2v1h-2zM68 318h3v1h-3zM70 319h3v1h-3zM73 320h4v1h-4zM76 321h6v1h-6zM81 322h176v1h-176zM256 323h16v1h-16zM271 324h10v1h-10zM280 325h6v1h-6zM286 326h5v1h-5zM290 327h4v1h-4zM293 328h4v1h-4zM296 329h3v1h-3zM298 330h3v1h-3zM300 331h2v1h-2zM301 332h1v1h-1zM301 333h2v1h-2zM302 334h1v1h-1zM301 335h2v1h-2zM300 336h2v1h-2zM299 337h2v1h-2zM298 338h2v1h-2zM295 339h4v1h-4zM292 340h4v1h-4zM288 341h5v1h-5zM119 342h169v1h-169zM99 343h21v1h-21zM89 344h11v1h-11zM83 345h7v1h-7zM78 346h6v1h-6zM75 347h4v1h-4zM72 348h4v1h-4zM70 349h3v1h-3zM68 350h2v1h-2zM67 351h2v1h-2zM66 352h2v1h-2zM66 353h1v1h-1zM65 354h1v1h-1zM65 355h2v1h-2zM66 356h1v1h-1zM66 357h2v1h-2zM68 358h2v1h-2zM69 359h3v1h-3zM71 360h4v1h-4zM74 361h5v1h-5zM78 362h9v1h-9zM202 362h32v1h-32zM86 363h117v1h-117zM233 363h33v1h-33zM265 364h12v1h-12zM276 365h8v1h-8zM283 366h6v1h-6zM288 367h5v1h-5zM292 368h4v1h-4zM295 369h4v1h-4zM297 370h3v1h-3zM299 371h2v1h-2zM300 372h2v1h-2zM301 373h2v1h-2zM302 374h1v1h-1zM301 375h2v1h-2zM301 376h1v1h-1zM300 377h2v1h-2zM299 378h2v1h-2zM297 379h3v1h-3zM294 380h4v1h-4zM290 381h5v1h-5zM284 382h7v1h-7zM107 383h178v1h-178zM94 384h14v1h-14zM86 385h9v1h-9zM80 386h7v1h-7zM76 387h5v1h-5zM73 388h4v1h-4zM71 389h3v1h-3zM69 390h2v1h-2zM67 391h3v1h-3zM66 392h2v1h-2zM66 393h1v1h-1zM65 394h2v1h-2zM65 395h2v1h-2zM66 396h1v1h-1zM66 397h2v1h-2zM67 398h2v1h-2zM68 399h3v1h-3zM70 400h3v1h-3zM73 401h4v1h-4zM76 402h6v1h-6zM81 403h176v1h-176zM256 404h16v1h-16zM271 405h10v1h-10zM280 406h6v1h-6zM286 407h5v1h-5zM290 408h4v1h-4zM293 409h4v1h-4zM296 410h3v1h-3zM298 411h3v1h-3zM300 412h2v1h-2zM301 413h1v1h-1zM301 414h2v1h-2zM302 415h1v1h-1zM301 416h2v1h-2zM300 417h2v1h-2zM299 418h2v1h-2zM298 419h2v1h-2zM295 420h4v1h-4zM292 421h4v1h-4zM288 422h5v1h-5zM30 423h258v1h-258z"/><rect x="366" y="465" width="1" height="1" fill="#ff0000"/></g><g style="mix-blend-mode:multiply" fill="#ffd78c" transform="translate(-2.2 0)"><text transform="translate(691.50 89.00) scale(1.0 1.045)" text-anchor="middle" font-size="47" font-family="Liberation Sans, sans-serif">Plot</text><text transform="translate(65.36 134.90) scale(1.0 1.045)" text-anchor="start" font-size="47" font-family="Liberation Sans, sans-serif">4</text><text transform="translate(65.36 245.60) scale(1.0 1.045)" text-anchor="start" font-size="47" font-family="Liberation Sans, sans-serif">3</text><text transform="translate(65.36 356.50) scale(1.0 1.045)" text-anchor="start" font-size="47" font-family="Liberation Sans, sans-serif">2</text><path d="M80.56 433.20H84.26V467.30H80.56ZM80.56 433.20L80.56 437.70L70.36 444.40L70.36 440.50Z"/><text transform="translate(65.36 578.00) scale(1.0 1.045)" text-anchor="start" font-size="47" font-family="Liberation Sans, sans-serif">0</text><path d="M92.10 647.10H95.80V681.20H92.10ZM92.10 647.10L92.10 651.60L81.90 658.30L81.90 654.40Z"/><rect x="45.8" y="665.7" width="27.1" height="3.9"/><text transform="translate(92.28 726.40) scale(1.0 1.045)" text-anchor="start" font-size="47" font-family="Liberation Sans, sans-serif">0</text><path d="M246.76 692.30H250.46V726.40H246.76ZM246.76 692.30L246.76 696.80L236.56 703.50L236.56 699.60Z"/><text transform="translate(257.70 726.40) scale(1.0 1.045)" text-anchor="start" font-size="47" font-family="Liberation Sans, sans-serif">0</text><text transform="translate(385.96 726.40) scale(1.0 1.045)" text-anchor="start" font-size="47" font-family="Liberation Sans, sans-serif">2</text><text transform="translate(412.10 726.40) scale(1.0 1.045)" text-anchor="start" font-size="47" font-family="Liberation Sans, sans-serif">0</text><text transform="translate(538.96 726.40) scale(1.0 1.045)" text-anchor="start" font-size="47" font-family="Liberation Sans, sans-serif">3</text><text transform="translate(565.10 726.40) scale(1.0 1.045)" text-anchor="start" font-size="47" font-family="Liberation Sans, sans-serif">0</text><text transform="translate(695.36 726.40) scale(1.0 1.045)" text-anchor="start" font-size="47" font-family="Liberation Sans, sans-serif">4</text><text transform="translate(721.50 726.40) scale(1.0 1.045)" text-anchor="start" font-size="47" font-family="Liberation Sans, sans-serif">0</text><text transform="translate(852.26 726.40) scale(1.0 1.045)" text-anchor="start" font-size="47" font-family="Liberation Sans, sans-serif">5</text><text transform="translate(878.40 726.40) scale(1.0 1.045)" text-anchor="start" font-size="47" font-family="Liberation Sans, sans-serif">0</text><text transform="translate(1005.86 726.40) scale(1.0 1.045)" text-anchor="start" font-size="47" font-family="Liberation Sans, sans-serif">6</text><text transform="translate(1032.00 726.40) scale(1.0 1.045)" text-anchor="start" font-size="47" font-family="Liberation Sans, sans-serif">0</text><text transform="translate(1161.26 726.40) scale(1.0 1.045)" text-anchor="start" font-size="47" font-family="Liberation Sans, sans-serif">7</text><text transform="translate(1187.40 726.40) scale(1.0 1.045)" text-anchor="start" font-size="47" font-family="Liberation Sans, sans-serif">0</text><text transform="translate(1319.66 726.40) scale(1.0 1.045)" text-anchor="start" font-size="47" font-family="Liberation Sans, sans-serif">8</text><text transform="translate(1345.80 726.40) scale(1.0 1.045)" text-anchor="start" font-size="47" font-family="Liberation Sans, sans-serif">0</text><text transform="translate(718.40 791.70) scale(1.0 1.045)" text-anchor="middle" font-size="48" font-family="Liberation Sans, sans-serif">Time (sec)</text><text transform="translate(336.50 192.10) scale(0.85 1.0)" text-anchor="middle" font-size="57" font-family="Liberation Sans, sans-serif">y</text><text transform="translate(363.00 192.40) scale(0.95 1.0)" text-anchor="middle" font-size="42" font-family="Liberation Sans, sans-serif">o</text><text transform="translate(380.50 192.40) scale(1.2 1.0)" text-anchor="middle" font-size="33" font-family="Liberation Sans, sans-serif">2</text><text transform="translate(345.50 531.80) scale(0.95 1.0)" text-anchor="middle" font-size="57" font-family="Liberation Sans, sans-serif">x</text><text transform="translate(370.00 531.80) scale(0.95 1.0)" text-anchor="middle" font-size="42" font-family="Liberation Sans, sans-serif">o</text><text transform="translate(388.00 531.80) scale(1.2 1.0)" text-anchor="middle" font-size="33" font-family="Liberation Sans, sans-serif">2</text><text transform="translate(691.50 913.80) scale(1.0 1.045)" text-anchor="middle" font-size="47" font-family="Liberation Sans, sans-serif">Plot</text><text transform="translate(111.00 906.40) scale(1.0 1.045)" text-anchor="middle" font-size="47" font-family="Liberation Sans, sans-serif">yN</text><text transform="translate(50.22 959.60) scale(1.0 1.045)" text-anchor="start" font-size="47" font-family="Liberation Sans, sans-serif">2</text><text transform="translate(76.36 959.60) scale(1.0 1.045)" text-anchor="start" font-size="47" font-family="Liberation Sans, sans-serif">0</text><path d="M65.42 1093.60H69.12V1127.70H65.42ZM65.42 1093.60L65.42 1098.10L55.22 1104.80L55.22 1100.90Z"/><text transform="translate(76.36 1127.70) scale(1.0 1.045)" text-anchor="start" font-size="47" font-family="Liberation Sans, sans-serif">5</text><path d="M65.42 1261.70H69.12V1295.80H65.42ZM65.42 1261.70L65.42 1266.20L55.22 1272.90L55.22 1269.00Z"/><text transform="translate(76.36 1295.80) scale(1.0 1.045)" text-anchor="start" font-size="47" font-family="Liberation Sans, sans-serif">0</text><text transform="translate(76.36 1463.60) scale(1.0 1.045)" text-anchor="start" font-size="47" font-family="Liberation Sans, sans-serif">5</text><text transform="translate(76.36 1631.60) scale(1.0 1.045)" text-anchor="start" font-size="47" font-family="Liberation Sans, sans-serif">0</text><text transform="translate(103.48 1673.60) scale(1.0 1.045)" text-anchor="start" font-size="47" font-family="Liberation Sans, sans-serif">0</text><text transform="translate(305.53 1673.60) scale(1.0 1.045)" text-anchor="start" font-size="47" font-family="Liberation Sans, sans-serif">2</text><text transform="translate(512.43 1673.60) scale(1.0 1.045)" text-anchor="start" font-size="47" font-family="Liberation Sans, sans-serif">4</text><text transform="translate(718.03 1673.60) scale(1.0 1.045)" text-anchor="start" font-size="47" font-family="Liberation Sans, sans-serif">6</text><text transform="translate(920.33 1673.60) scale(1.0 1.045)" text-anchor="start" font-size="47" font-family="Liberation Sans, sans-serif">8</text><path d="M1128.96 1639.50H1132.66V1673.60H1128.96ZM1128.96 1639.50L1128.96 1644.00L1118.76 1650.70L1118.76 1646.80Z"/><text transform="translate(1139.90 1673.60) scale(1.0 1.045)" text-anchor="start" font-size="47" font-family="Liberation Sans, sans-serif">0</text><path d="M1335.16 1639.50H1338.86V1673.60H1335.16ZM1335.16 1639.50L1335.16 1644.00L1324.96 1650.70L1324.96 1646.80Z"/><text transform="translate(1346.10 1673.60) scale(1.0 1.045)" text-anchor="start" font-size="47" font-family="Liberation Sans, sans-serif">2</text><text transform="translate(703.00 1746.60) scale(1.0 1.045)" text-anchor="middle" font-size="47" font-family="Liberation Sans, sans-serif">xN</text></g><g style="mix-blend-mode:multiply" fill="#8cffff" transform="translate(2.2 0)"><text transform="translate(691.50 89.00) scale(1.0 1.045)" text-anchor="middle" font-size="47" font-family="Liberation Sans, sans-serif">Plot</text><text transform="translate(65.36 134.90) scale(1.0 1.045)" text-anchor="start" font-size="47" font-family="Liberation Sans, sans-serif">4</text><text transform="translate(65.36 245.60) scale(1.0 1.045)" text-anchor="start" font-size="47" font-family="Liberation Sans, sans-serif">3</text><text transform="translate(65.36 356.50) scale(1.0 1.045)" text-anchor="start" font-size="47" font-family="Liberation Sans, sans-serif">2</text><path d="M80.56 433.20H84.26V467.30H80.56ZM80.56 433.20L80.56 437.70L70.36 444.40L70.36 440.50Z"/><text transform="translate(65.36 578.00) scale(1.0 1.045)" text-anchor="start" font-size="47" font-family="Liberation Sans, sans-serif">0</text><path d="M92.10 647.10H95.80V681.20H92.10ZM92.10 647.10L92.10 651.60L81.90 658.30L81.90 654.40Z"/><rect x="45.8" y="665.7" width="27.1" height="3.9"/><text transform="translate(92.28 726.40) scale(1.0 1.045)" text-anchor="start" font-size="47" font-family="Liberation Sans, sans-serif">0</text><path d="M246.76 692.30H250.46V726.40H246.76ZM246.76 692.30L246.76 696.80L236.56 703.50L236.56 699.60Z"/><text transform="translate(257.70 726.40) scale(1.0 1.045)" text-anchor="start" font-size="47" font-family="Liberation Sans, sans-serif">0</text><text transform="translate(385.96 726.40) scale(1.0 1.045)" text-anchor="start" font-size="47" font-family="Liberation Sans, sans-serif">2</text><text transform="translate(412.10 726.40) scale(1.0 1.045)" text-anchor="start" font-size="47" font-family="Liberation Sans, sans-serif">0</text><text transform="translate(538.96 726.40) scale(1.0 1.045)" text-anchor="start" font-size="47" font-family="Liberation Sans, sans-serif">3</text><text transform="translate(565.10 726.40) scale(1.0 1.045)" text-anchor="start" font-size="47" font-family="Liberation Sans, sans-serif">0</text><text transform="translate(695.36 726.40) scale(1.0 1.045)" text-anchor="start" font-size="47" font-family="Liberation Sans, sans-serif">4</text><text transform="translate(721.50 726.40) scale(1.0 1.045)" text-anchor="start" font-size="47" font-family="Liberation Sans, sans-serif">0</text><text transform="translate(852.26 726.40) scale(1.0 1.045)" text-anchor="start" font-size="47" font-family="Liberation Sans, sans-serif">5</text><text transform="translate(878.40 726.40) scale(1.0 1.045)" text-anchor="start" font-size="47" font-family="Liberation Sans, sans-serif">0</text><text transform="translate(1005.86 726.40) scale(1.0 1.045)" text-anchor="start" font-size="47" font-family="Liberation Sans, sans-serif">6</text><text transform="translate(1032.00 726.40) scale(1.0 1.045)" text-anchor="start" font-size="47" font-family="Liberation Sans, sans-serif">0</text><text transform="translate(1161.26 726.40) scale(1.0 1.045)" text-anchor="start" font-size="47" font-family="Liberation Sans, sans-serif">7</text><text transform="translate(1187.40 726.40) scale(1.0 1.045)" text-anchor="start" font-size="47" font-family="Liberation Sans, sans-serif">0</text><text transform="translate(1319.66 726.40) scale(1.0 1.045)" text-anchor="start" font-size="47" font-family="Liberation Sans, sans-serif">8</text><text transform="translate(1345.80 726.40) scale(1.0 1.045)" text-anchor="start" font-size="47" font-family="Liberation Sans, sans-serif">0</text><text transform="translate(718.40 791.70) scale(1.0 1.045)" text-anchor="middle" font-size="48" font-family="Liberation Sans, sans-serif">Time (sec)</text><text transform="translate(336.50 192.10) scale(0.85 1.0)" text-anchor="middle" font-size="57" font-family="Liberation Sans, sans-serif">y</text><text transform="translate(363.00 192.40) scale(0.95 1.0)" text-anchor="middle" font-size="42" font-family="Liberation Sans, sans-serif">o</text><text transform="translate(380.50 192.40) scale(1.2 1.0)" text-anchor="middle" font-size="33" font-family="Liberation Sans, sans-serif">2</text><text transform="translate(345.50 531.80) scale(0.95 1.0)" text-anchor="middle" font-size="57" font-family="Liberation Sans, sans-serif">x</text><text transform="translate(370.00 531.80) scale(0.95 1.0)" text-anchor="middle" font-size="42" font-family="Liberation Sans, sans-serif">o</text><text transform="translate(388.00 531.80) scale(1.2 1.0)" text-anchor="middle" font-size="33" font-family="Liberation Sans, sans-serif">2</text><text transform="translate(691.50 913.80) scale(1.0 1.045)" text-anchor="middle" font-size="47" font-family="Liberation Sans, sans-serif">Plot</text><text transform="translate(111.00 906.40) scale(1.0 1.045)" text-anchor="middle" font-size="47" font-family="Liberation Sans, sans-serif">yN</text><text transform="translate(50.22 959.60) scale(1.0 1.045)" text-anchor="start" font-size="47" font-family="Liberation Sans, sans-serif">2</text><text transform="translate(76.36 959.60) scale(1.0 1.045)" text-anchor="start" font-size="47" font-family="Liberation Sans, sans-serif">0</text><path d="M65.42 1093.60H69.12V1127.70H65.42ZM65.42 1093.60L65.42 1098.10L55.22 1104.80L55.22 1100.90Z"/><text transform="translate(76.36 1127.70) scale(1.0 1.045)" text-anchor="start" font-size="47" font-family="Liberation Sans, sans-serif">5</text><path d="M65.42 1261.70H69.12V1295.80H65.42ZM65.42 1261.70L65.42 1266.20L55.22 1272.90L55.22 1269.00Z"/><text transform="translate(76.36 1295.80) scale(1.0 1.045)" text-anchor="start" font-size="47" font-family="Liberation Sans, sans-serif">0</text><text transform="translate(76.36 1463.60) scale(1.0 1.045)" text-anchor="start" font-size="47" font-family="Liberation Sans, sans-serif">5</text><text transform="translate(76.36 1631.60) scale(1.0 1.045)" text-anchor="start" font-size="47" font-family="Liberation Sans, sans-serif">0</text><text transform="translate(103.48 1673.60) scale(1.0 1.045)" text-anchor="start" font-size="47" font-family="Liberation Sans, sans-serif">0</text><text transform="translate(305.53 1673.60) scale(1.0 1.045)" text-anchor="start" font-size="47" font-family="Liberation Sans, sans-serif">2</text><text transform="translate(512.43 1673.60) scale(1.0 1.045)" text-anchor="start" font-size="47" font-family="Liberation Sans, sans-serif">4</text><text transform="translate(718.03 1673.60) scale(1.0 1.045)" text-anchor="start" font-size="47" font-family="Liberation Sans, sans-serif">6</text><text transform="translate(920.33 1673.60) scale(1.0 1.045)" text-anchor="start" font-size="47" font-family="Liberation Sans, sans-serif">8</text><path d="M1128.96 1639.50H1132.66V1673.60H1128.96ZM1128.96 1639.50L1128.96 1644.00L1118.76 1650.70L1118.76 1646.80Z"/><text transform="translate(1139.90 1673.60) scale(1.0 1.045)" text-anchor="start" font-size="47" font-family="Liberation Sans, sans-serif">0</text><path d="M1335.16 1639.50H1338.86V1673.60H1335.16ZM1335.16 1639.50L1335.16 1644.00L1324.96 1650.70L1324.96 1646.80Z"/><text transform="translate(1346.10 1673.60) scale(1.0 1.045)" text-anchor="start" font-size="47" font-family="Liberation Sans, sans-serif">2</text><text transform="translate(703.00 1746.60) scale(1.0 1.045)" text-anchor="middle" font-size="47" font-family="Liberation Sans, sans-serif">xN</text></g><g fill="#000"><text transform="translate(691.50 89.00) scale(1.0 1.045)" text-anchor="middle" font-size="47" font-family="Liberation Sans, sans-serif">Plot</text><text transform="translate(65.36 134.90) scale(1.0 1.045)" text-anchor="start" font-size="47" font-family="Liberation Sans, sans-serif">4</text><text transform="translate(65.36 245.60) scale(1.0 1.045)" text-anchor="start" font-size="47" font-family="Liberation Sans, sans-serif">3</text><text transform="translate(65.36 356.50) scale(1.0 1.045)" text-anchor="start" font-size="47" font-family="Liberation Sans, sans-serif">2</text><path d="M80.56 433.20H84.26V467.30H80.56ZM80.56 433.20L80.56 437.70L70.36 444.40L70.36 440.50Z"/><text transform="translate(65.36 578.00) scale(1.0 1.045)" text-anchor="start" font-size="47" font-family="Liberation Sans, sans-serif">0</text><path d="M92.10 647.10H95.80V681.20H92.10ZM92.10 647.10L92.10 651.60L81.90 658.30L81.90 654.40Z"/><rect x="45.8" y="665.7" width="27.1" height="3.9"/><text transform="translate(92.28 726.40) scale(1.0 1.045)" text-anchor="start" font-size="47" font-family="Liberation Sans, sans-serif">0</text><path d="M246.76 692.30H250.46V726.40H246.76ZM246.76 692.30L246.76 696.80L236.56 703.50L236.56 699.60Z"/><text transform="translate(257.70 726.40) scale(1.0 1.045)" text-anchor="start" font-size="47" font-family="Liberation Sans, sans-serif">0</text><text transform="translate(385.96 726.40) scale(1.0 1.045)" text-anchor="start" font-size="47" font-family="Liberation Sans, sans-serif">2</text><text transform="translate(412.10 726.40) scale(1.0 1.045)" text-anchor="start" font-size="47" font-family="Liberation Sans, sans-serif">0</text><text transform="translate(538.96 726.40) scale(1.0 1.045)" text-anchor="start" font-size="47" font-family="Liberation Sans, sans-serif">3</text><text transform="translate(565.10 726.40) scale(1.0 1.045)" text-anchor="start" font-size="47" font-family="Liberation Sans, sans-serif">0</text><text transform="translate(695.36 726.40) scale(1.0 1.045)" text-anchor="start" font-size="47" font-family="Liberation Sans, sans-serif">4</text><text transform="translate(721.50 726.40) scale(1.0 1.045)" text-anchor="start" font-size="47" font-family="Liberation Sans, sans-serif">0</text><text transform="translate(852.26 726.40) scale(1.0 1.045)" text-anchor="start" font-size="47" font-family="Liberation Sans, sans-serif">5</text><text transform="translate(878.40 726.40) scale(1.0 1.045)" text-anchor="start" font-size="47" font-family="Liberation Sans, sans-serif">0</text><text transform="translate(1005.86 726.40) scale(1.0 1.045)" text-anchor="start" font-size="47" font-family="Liberation Sans, sans-serif">6</text><text transform="translate(1032.00 726.40) scale(1.0 1.045)" text-anchor="start" font-size="47" font-family="Liberation Sans, sans-serif">0</text><text transform="translate(1161.26 726.40) scale(1.0 1.045)" text-anchor="start" font-size="47" font-family="Liberation Sans, sans-serif">7</text><text transform="translate(1187.40 726.40) scale(1.0 1.045)" text-anchor="start" font-size="47" font-family="Liberation Sans, sans-serif">0</text><text transform="translate(1319.66 726.40) scale(1.0 1.045)" text-anchor="start" font-size="47" font-family="Liberation Sans, sans-serif">8</text><text transform="translate(1345.80 726.40) scale(1.0 1.045)" text-anchor="start" font-size="47" font-family="Liberation Sans, sans-serif">0</text><text transform="translate(718.40 791.70) scale(1.0 1.045)" text-anchor="middle" font-size="48" font-family="Liberation Sans, sans-serif">Time (sec)</text><text transform="translate(336.50 192.10) scale(0.85 1.0)" text-anchor="middle" font-size="57" font-family="Liberation Sans, sans-serif">y</text><text transform="translate(363.00 192.40) scale(0.95 1.0)" text-anchor="middle" font-size="42" font-family="Liberation Sans, sans-serif">o</text><text transform="translate(380.50 192.40) scale(1.2 1.0)" text-anchor="middle" font-size="33" font-family="Liberation Sans, sans-serif">2</text><text transform="translate(345.50 531.80) scale(0.95 1.0)" text-anchor="middle" font-size="57" font-family="Liberation Sans, sans-serif">x</text><text transform="translate(370.00 531.80) scale(0.95 1.0)" text-anchor="middle" font-size="42" font-family="Liberation Sans, sans-serif">o</text><text transform="translate(388.00 531.80) scale(1.2 1.0)" text-anchor="middle" font-size="33" font-family="Liberation Sans, sans-serif">2</text><text transform="translate(691.50 913.80) scale(1.0 1.045)" text-anchor="middle" font-size="47" font-family="Liberation Sans, sans-serif">Plot</text><text transform="translate(111.00 906.40) scale(1.0 1.045)" text-anchor="middle" font-size="47" font-family="Liberation Sans, sans-serif">yN</text><text transform="translate(50.22 959.60) scale(1.0 1.045)" text-anchor="start" font-size="47" font-family="Liberation Sans, sans-serif">2</text><text transform="translate(76.36 959.60) scale(1.0 1.045)" text-anchor="start" font-size="47" font-family="Liberation Sans, sans-serif">0</text><path d="M65.42 1093.60H69.12V1127.70H65.42ZM65.42 1093.60L65.42 1098.10L55.22 1104.80L55.22 1100.90Z"/><text transform="translate(76.36 1127.70) scale(1.0 1.045)" text-anchor="start" font-size="47" font-family="Liberation Sans, sans-serif">5</text><path d="M65.42 1261.70H69.12V1295.80H65.42ZM65.42 1261.70L65.42 1266.20L55.22 1272.90L55.22 1269.00Z"/><text transform="translate(76.36 1295.80) scale(1.0 1.045)" text-anchor="start" font-size="47" font-family="Liberation Sans, sans-serif">0</text><text transform="translate(76.36 1463.60) scale(1.0 1.045)" text-anchor="start" font-size="47" font-family="Liberation Sans, sans-serif">5</text><text transform="translate(76.36 1631.60) scale(1.0 1.045)" text-anchor="start" font-size="47" font-family="Liberation Sans, sans-serif">0</text><text transform="translate(103.48 1673.60) scale(1.0 1.045)" text-anchor="start" font-size="47" font-family="Liberation Sans, sans-serif">0</text><text transform="translate(305.53 1673.60) scale(1.0 1.045)" text-anchor="start" font-size="47" font-family="Liberation Sans, sans-serif">2</text><text transform="translate(512.43 1673.60) scale(1.0 1.045)" text-anchor="start" font-size="47" font-family="Liberation Sans, sans-serif">4</text><text transform="translate(718.03 1673.60) scale(1.0 1.045)" text-anchor="start" font-size="47" font-family="Liberation Sans, sans-serif">6</text><text transform="translate(920.33 1673.60) scale(1.0 1.045)" text-anchor="start" font-size="47" font-family="Liberation Sans, sans-serif">8</text><path d="M1128.96 1639.50H1132.66V1673.60H1128.96ZM1128.96 1639.50L1128.96 1644.00L1118.76 1650.70L1118.76 1646.80Z"/><text transform="translate(1139.90 1673.60) scale(1.0 1.045)" text-anchor="start" font-size="47" font-family="Liberation Sans, sans-serif">0</text><path d="M1335.16 1639.50H1338.86V1673.60H1335.16ZM1335.16 1639.50L1335.16 1644.00L1324.96 1650.70L1324.96 1646.80Z"/><text transform="translate(1346.10 1673.60) scale(1.0 1.045)" text-anchor="start" font-size="47" font-family="Liberation Sans, sans-serif">2</text><text transform="translate(703.00 1746.60) scale(1.0 1.045)" text-anchor="middle" font-size="47" font-family="Liberation Sans, sans-serif">xN</text></g></svg></body></html>
